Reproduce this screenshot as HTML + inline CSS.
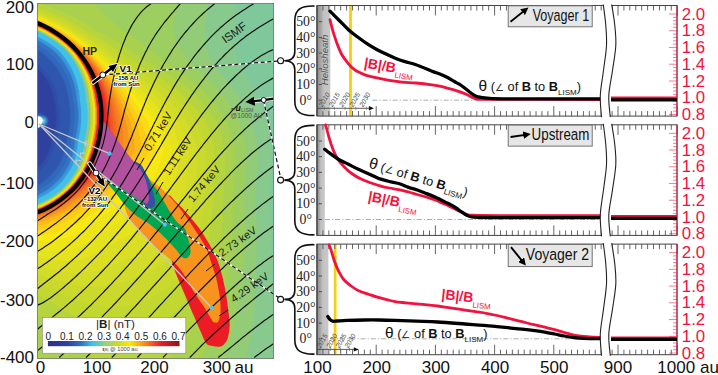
<!DOCTYPE html>
<html><head><meta charset="utf-8"><style>html,body{margin:0;padding:0;background:#fff;overflow:hidden}svg{display:block}</style></head>
<body><svg xmlns="http://www.w3.org/2000/svg" width="718" height="375" viewBox="0 0 718 375">
<rect width="718" height="375" fill="#fff"/>
<defs>
<clipPath id="lp"><rect x="37.5" y="3.5" width="236.1" height="354.9"/></clipPath>
<linearGradient id="cbar" x1="0" x2="1" y1="0" y2="0"><stop offset="0" stop-color="#2c2e8a"/><stop offset="0.143" stop-color="#2f3e9e"/><stop offset="0.25" stop-color="#2f6fbe"/><stop offset="0.33" stop-color="#3cbdeb"/><stop offset="0.43" stop-color="#8fcf8a"/><stop offset="0.52" stop-color="#c8d92c"/><stop offset="0.62" stop-color="#fde802"/><stop offset="0.71" stop-color="#f7a11b"/><stop offset="0.79" stop-color="#f05a22"/><stop offset="0.86" stop-color="#e3202a"/><stop offset="1" stop-color="#85181a"/></linearGradient>
<radialGradient id="sung" cx="0.5" cy="0.5" r="0.5"><stop offset="0" stop-color="#7fe0ff"/><stop offset="1" stop-color="#3fb8ea" stop-opacity="0"/></radialGradient>
<marker id="ah" viewBox="0 0 10 10" refX="5" refY="5" markerWidth="4" markerHeight="4" orient="auto-start-reverse"><path d="M0,0 L10,5 L0,10 z" fill="#000"/></marker>
</defs>
<g clip-path="url(#lp)">
<rect x="0" y="0" width="300" height="375" fill="#2d3f9d"/>
<path d="M275.5,360.1 35.4,360.0 35.3,22.5 35.5,1.4 275.6,1.5 275.5,360.1Z" fill="#2d3996" fill-rule="evenodd"/>
<path d="M275.5,360.1 35.4,360.0 35.3,22.5 35.5,1.4 275.6,1.5 275.5,360.1Z" fill="#2d3d9a" fill-rule="evenodd"/>
<path d="M275.5,360.1 35.4,360.0 35.5,103.5 36.0,103.0 36.4,102.0 36.0,100.0 35.5,99.4 35.3,23.0 35.5,1.4 275.6,1.5 275.5,360.1Z" fill="#2e419f" fill-rule="evenodd"/>
<path d="M275.5,360.1 35.4,360.0 35.5,168.3 39.5,164.8 42.7,161.0 45.5,156.2 48.0,151.0 50.0,145.2 50.9,140.5 53.1,134.0 54.2,129.5 55.5,120.0 55.6,112.5 54.7,105.5 53.2,100.0 52.6,96.0 51.5,91.8 49.6,87.0 47.1,82.0 45.0,78.7 41.0,73.5 35.5,68.1 35.3,23.0 35.5,1.4 275.6,1.5 275.5,360.1ZM42.5,130.5 41.0,130.9 39.0,130.9 35.5,130.3 35.5,111.7 37.5,111.3 40.0,111.3 42.0,111.6 43.5,112.1 45.5,113.2 46.9,114.5 48.1,116.0 48.9,117.5 49.5,119.5 49.6,121.5 49.3,123.5 48.6,125.5 47.6,127.0 46.0,128.7 44.5,129.7 42.5,130.5Z" fill="#2e45a3" fill-rule="evenodd"/>
<path d="M275.5,360.1 35.4,360.0 35.5,169.8 40.4,165.5 43.5,162.0 46.4,157.0 48.9,152.0 50.8,146.5 52.2,140.0 54.7,132.0 56.0,125.0 56.6,119.5 56.6,112.0 55.8,106.0 52.7,92.0 50.9,87.0 49.2,83.5 46.0,78.0 41.7,72.5 38.8,69.5 35.5,66.5 35.3,23.0 35.5,1.4 275.6,1.5 275.5,360.1ZM41.0,129.1 38.5,129.4 35.5,128.8 35.5,113.2 36.0,113.1 38.0,112.7 40.0,112.8 43.0,113.8 44.5,114.8 45.5,115.9 46.9,118.5 47.2,120.0 47.2,122.0 46.3,125.0 45.3,126.5 44.0,127.7 42.5,128.6 41.0,129.1Z" fill="#2f4ea9" fill-rule="evenodd"/>
<path d="M275.5,360.1 35.4,360.0 35.5,173.9 39.5,170.9 46.0,164.6 49.1,159.5 51.8,154.0 53.9,148.0 55.6,140.0 57.8,133.0 59.2,125.5 59.8,120.0 59.8,112.0 59.0,105.5 55.8,90.5 53.7,85.0 50.0,78.0 48.8,76.0 46.0,72.3 41.5,67.2 35.5,62.0 35.5,1.4 275.6,1.5 275.5,360.1ZM41.0,128.1 38.5,128.4 37.0,128.3 35.5,127.8 35.5,114.2 36.0,114.0 37.5,113.7 39.0,113.6 40.5,113.8 42.0,114.3 44.2,116.0 45.8,118.5 46.1,120.0 46.2,121.5 45.9,123.0 45.4,124.5 43.5,126.8 41.0,128.1Z" fill="#2f56af" fill-rule="evenodd"/>
<path d="M275.5,360.1 35.4,360.0 35.5,185.9 38.5,184.3 42.0,181.9 45.5,179.2 49.5,175.6 54.4,170.5 57.2,166.5 59.3,163.0 61.0,159.5 63.1,154.0 64.3,150.0 65.9,142.5 66.1,140.0 67.1,137.0 68.2,132.0 69.3,125.5 69.8,120.5 69.8,111.0 67.4,94.5 65.4,86.5 62.9,80.0 60.7,75.5 56.8,69.0 51.2,62.0 45.0,56.0 41.0,52.8 35.5,49.1 35.5,1.4 275.6,1.5 275.5,360.1ZM40.0,127.5 37.5,127.6 35.5,126.9 35.5,115.1 37.0,114.5 39.5,114.4 42.0,115.3 44.0,117.0 45.2,119.5 45.3,122.0 44.4,124.5 42.5,126.5 40.0,127.5Z" fill="#305fb5" fill-rule="evenodd"/>
<path d="M275.5,360.1 35.4,360.0 35.5,187.1 39.0,185.2 42.0,183.2 46.0,180.1 50.0,176.6 55.0,171.3 58.0,167.2 60.2,163.5 61.5,161.0 63.1,157.0 65.3,150.5 66.9,142.5 67.1,140.0 68.5,135.5 69.5,130.5 70.8,120.5 70.8,111.0 68.3,94.0 66.3,86.0 63.5,78.8 61.6,75.0 57.7,68.5 52.0,61.3 49.0,58.2 45.0,54.6 39.0,50.0 35.5,48.0 35.5,1.4 275.6,1.5 275.5,360.1ZM39.0,127.0 37.0,126.8 35.5,126.2 35.5,115.8 38.0,115.0 40.5,115.3 42.5,116.4 43.9,118.0 44.7,120.5 44.4,123.0 43.2,125.0 41.5,126.3 39.0,127.0Z" fill="#3068bb" fill-rule="evenodd"/>
<path d="M275.5,360.1 35.4,360.0 35.5,192.0 41.2,189.0 44.0,187.1 48.8,183.5 52.7,180.0 56.2,176.5 58.4,174.0 61.3,170.0 64.4,165.0 65.8,162.0 67.9,156.5 69.2,152.0 70.8,144.0 71.2,140.0 72.2,136.5 73.3,131.0 74.6,121.0 74.6,110.5 73.7,103.5 73.0,100.0 72.2,92.5 71.2,88.0 69.2,81.5 67.5,77.3 65.4,73.0 61.0,65.5 55.0,58.0 52.0,54.9 46.5,50.0 38.5,45.0 35.5,43.5 35.5,1.4 275.5,1.5 275.5,360.1ZM40.5,126.1 38.0,126.4 36.5,126.0 35.5,125.5 35.5,116.5 36.5,116.0 38.5,115.6 40.7,116.0 42.5,117.2 43.7,119.0 44.1,121.0 43.7,123.0 42.5,124.8 40.5,126.1Z" fill="#3274c3" fill-rule="evenodd"/>
<path d="M275.5,360.0 35.4,360.0 35.5,195.6 36.0,195.6 43.2,192.0 46.5,190.0 51.0,186.6 55.0,183.0 57.0,180.7 58.6,179.5 61.1,176.5 62.3,174.5 64.0,172.5 68.1,166.0 69.1,164.0 69.2,163.0 71.1,158.5 72.6,153.5 72.7,152.0 73.1,151.0 73.2,149.5 74.1,145.5 74.6,140.0 75.5,137.0 75.7,135.5 76.5,132.0 78.0,121.5 78.0,110.5 77.7,109.5 77.5,106.5 77.2,105.5 77.0,103.0 76.3,100.0 76.1,95.5 75.7,94.0 75.5,91.5 74.8,89.0 74.6,87.0 72.5,80.1 71.3,77.5 70.5,75.1 68.0,70.0 63.5,62.5 57.5,54.9 53.0,50.4 50.5,48.5 45.2,45.0 40.2,42.0 36.0,39.9 35.5,39.9 35.5,1.4 275.5,1.5 275.5,360.0ZM40.5,125.5 39.5,125.8 38.0,125.9 36.5,125.5 35.5,124.9 35.5,117.1 36.5,116.5 38.5,116.1 40.5,116.5 42.0,117.5 43.1,119.0 43.5,121.0 43.1,123.0 42.1,124.5 40.5,125.5Z" fill="#3480ca" fill-rule="evenodd"/>
<path d="M275.5,360.0 35.4,360.0 35.5,195.9 36.5,195.7 43.5,192.2 44.5,191.4 46.0,190.7 53.0,185.2 58.8,179.5 61.4,176.5 64.3,172.5 68.7,165.5 71.2,159.0 72.7,154.0 74.3,146.0 74.9,140.0 75.7,137.5 76.8,132.0 77.8,126.0 77.9,123.0 78.3,121.5 78.3,110.5 77.9,109.0 77.3,103.0 76.8,101.0 75.7,91.0 75.3,90.0 74.7,86.5 73.9,84.0 73.8,83.0 72.8,80.0 70.8,75.0 68.3,70.0 64.2,63.0 57.5,54.6 53.0,50.1 45.5,44.8 44.0,44.1 40.5,41.8 36.5,39.8 35.5,39.6 35.5,1.4 275.5,1.5 275.5,360.0ZM40.0,125.1 39.0,125.4 37.5,125.3 35.5,124.2 35.5,117.8 37.0,116.9 38.5,116.6 40.5,117.1 41.8,118.0 42.7,119.5 42.9,121.5 42.5,123.0 41.5,124.3 40.0,125.1Z" fill="#368cd2" fill-rule="evenodd"/>
<path d="M275.5,360.0 35.4,360.0 35.5,196.7 43.3,193.0 46.5,191.1 50.9,188.0 53.5,185.8 59.0,180.5 62.0,177.0 64.9,173.0 69.2,166.0 72.0,159.0 73.4,154.0 75.1,145.5 75.6,140.0 77.4,132.0 78.9,121.5 78.9,110.5 77.9,103.0 77.3,100.0 76.5,91.5 75.4,86.5 73.1,79.0 71.6,75.0 68.9,69.5 64.5,62.1 58.1,54.0 55.0,50.8 51.4,48.0 46.0,44.4 40.5,41.1 35.5,38.8 35.5,1.4 275.5,1.5 275.5,360.0ZM40.0,124.6 39.0,124.9 37.5,124.7 36.5,124.3 35.5,123.4 35.5,118.6 37.0,117.4 38.5,117.1 40.0,117.4 41.5,118.5 42.2,119.5 42.5,121.0 42.2,122.5 41.5,123.6 40.0,124.6Z" fill="#3898d9" fill-rule="evenodd"/>
<path d="M275.5,360.0 35.5,360.0 35.5,199.4 37.0,198.7 37.9,198.5 44.9,195.0 46.0,194.1 49.0,192.5 51.5,190.6 52.0,190.5 55.1,188.0 62.5,180.5 65.7,176.0 67.0,174.5 67.1,174.0 68.5,172.1 68.6,171.5 69.5,170.5 70.2,169.0 71.0,168.0 72.5,165.0 72.7,164.0 73.0,163.7 73.6,161.5 74.5,159.7 75.2,156.5 75.5,156.0 76.2,151.5 76.5,151.0 76.7,149.0 77.0,148.4 77.2,146.5 77.5,145.5 77.7,141.0 78.0,140.4 78.2,138.5 78.5,138.0 78.6,136.5 79.0,135.5 79.3,133.5 79.5,133.0 79.6,131.0 80.0,130.0 80.1,128.0 80.5,127.0 80.6,123.5 81.1,122.0 81.0,109.5 80.6,108.5 80.5,105.5 80.1,104.5 80.0,102.0 79.6,101.0 79.5,97.0 79.2,96.0 78.5,89.5 78.2,89.0 77.6,85.0 77.2,84.5 76.5,81.2 75.6,79.0 75.5,78.1 74.2,75.5 74.0,74.3 73.7,74.0 73.0,72.0 71.6,69.5 71.5,68.9 71.1,68.5 71.0,68.0 69.1,65.0 68.5,63.5 67.6,62.5 67.0,61.1 65.5,59.0 60.0,52.0 56.8,49.0 51.5,45.0 51.0,44.9 50.0,44.0 49.5,43.9 46.9,42.0 45.5,41.4 41.9,39.0 37.9,37.0 37.0,36.8 35.5,36.1 35.5,1.4 275.5,1.5 275.5,360.0ZM40.0,124.0 39.0,124.3 37.5,124.2 36.3,123.5 35.5,122.5 35.5,119.6 36.0,118.8 37.0,118.0 38.0,117.7 39.5,117.8 40.7,118.5 41.5,119.5 41.9,120.5 41.7,122.0 41.0,123.3 40.0,124.0Z" fill="#3aa3de" fill-rule="evenodd"/>
<path d="M275.5,360.0 35.5,360.0 35.5,199.6 38.0,198.6 45.0,195.1 53.5,189.6 61.0,182.4 63.5,179.5 67.0,174.8 71.2,168.0 72.7,165.0 74.5,160.0 76.0,154.5 77.6,146.0 77.7,142.5 78.2,139.5 79.6,133.5 80.7,127.0 80.7,124.5 81.2,122.0 81.2,109.5 80.8,108.0 80.2,102.0 79.7,100.0 79.6,97.0 78.7,89.5 78.3,88.5 77.7,85.0 75.6,78.0 73.6,73.0 71.2,68.0 68.7,63.5 66.1,59.5 60.0,51.8 57.0,48.9 53.0,45.9 47.0,41.9 42.0,38.9 35.5,35.9 35.5,1.5 275.5,1.5 275.5,360.0ZM39.5,123.6 38.5,123.8 37.5,123.6 36.6,123.0 35.9,122.0 35.7,121.0 35.9,120.0 36.6,119.0 37.5,118.4 38.5,118.2 39.7,118.5 40.5,119.0 41.2,120.0 41.3,121.0 41.2,122.0 40.5,123.0 39.5,123.6Z" fill="#3bade3" fill-rule="evenodd"/>
<path d="M275.5,360.0 35.5,360.0 35.5,199.8 38.0,198.8 45.0,195.3 53.5,189.8 61.2,182.5 64.2,179.0 65.4,177.0 67.0,175.0 71.6,167.5 72.6,165.5 74.7,160.0 76.2,154.5 77.7,146.5 77.9,143.0 78.3,139.5 79.2,136.5 80.8,127.5 81.3,122.0 81.3,109.5 80.3,101.5 79.8,100.0 79.8,96.5 79.1,91.0 77.7,84.5 75.6,77.5 74.8,76.0 74.2,74.0 71.1,67.5 66.7,60.0 60.0,51.6 57.0,48.7 52.5,45.3 47.0,41.7 42.0,38.7 35.5,35.7 35.5,1.5 275.5,1.5 275.5,360.0ZM39.0,123.1 37.5,122.9 37.0,122.5 36.4,121.5 36.6,120.0 37.0,119.5 38.0,118.9 39.5,119.1 40.0,119.5 40.6,120.5 40.4,122.0 40.0,122.5 39.0,123.1Z" fill="#3db8e8" fill-rule="evenodd"/>
<path d="M275.5,360.0 35.5,360.0 35.5,199.9 38.5,198.8 45.5,195.3 46.4,194.5 48.0,193.8 52.5,190.8 54.5,188.9 55.5,188.3 61.4,182.5 64.4,179.0 65.5,177.0 67.3,175.0 67.5,174.4 68.9,172.5 69.0,171.9 69.8,171.0 70.5,169.5 71.4,168.5 71.9,167.0 72.9,165.5 73.5,163.5 73.9,163.0 74.0,162.0 74.9,160.5 75.5,157.5 75.8,157.0 76.0,155.7 76.4,155.0 76.9,150.5 77.3,150.0 77.5,147.7 77.9,147.0 77.9,143.5 78.4,142.0 78.5,139.5 78.8,139.0 79.0,137.4 79.3,137.0 79.5,135.0 79.8,134.5 80.5,129.5 80.9,128.5 81.0,125.2 81.4,124.0 81.4,122.0 81.4,108.5 81.0,106.8 80.9,104.0 80.5,102.8 80.3,100.5 80.0,100.0 79.9,95.0 79.5,93.9 79.3,90.5 79.0,90.0 78.8,88.5 78.5,88.0 78.4,86.0 78.0,85.3 77.8,84.0 77.5,83.7 77.3,82.0 77.0,81.6 76.9,80.5 76.5,80.0 76.4,79.0 76.0,78.5 75.9,77.5 75.0,76.0 74.3,73.5 73.0,71.1 72.4,69.5 72.0,69.1 71.9,68.5 71.5,68.1 71.4,67.5 69.4,64.5 68.8,63.0 67.9,62.0 67.3,60.5 60.5,52.0 60.3,51.5 56.5,48.1 52.0,44.7 47.5,41.7 43.4,39.5 42.5,38.7 38.5,36.7 35.5,35.6 35.5,1.5 275.5,1.5 275.5,360.0ZM39.0,122.2 38.0,122.2 37.3,121.5 37.3,120.5 38.0,119.8 39.0,119.8 39.7,120.5 39.7,121.5 39.0,122.2Z" fill="#42c0e7" fill-rule="evenodd"/>
<path d="M275.5,360.0 35.5,360.0 35.5,205.0 37.0,204.1 37.6,204.0 38.0,203.6 39.0,203.5 39.5,203.1 40.1,203.0 40.5,202.6 41.1,202.5 41.5,202.1 42.1,202.0 42.5,201.6 43.1,201.5 43.5,201.1 44.0,201.0 44.5,200.6 45.0,200.5 45.5,200.1 48.0,199.0 49.0,198.1 50.5,197.5 51.5,196.6 52.0,196.5 53.0,195.6 53.5,195.5 54.5,194.6 55.0,194.5 56.0,193.6 56.5,193.5 58.0,192.1 58.5,192.0 60.5,190.1 61.0,190.0 62.1,188.5 63.5,187.2 64.0,187.0 64.5,186.6 68.5,182.0 69.2,180.5 71.1,178.5 73.1,175.0 74.0,174.0 74.1,173.5 75.5,171.6 76.2,170.0 77.0,169.0 77.2,168.0 77.7,167.0 78.5,166.0 78.7,165.0 79.5,163.6 79.7,162.5 80.0,162.2 80.7,159.5 81.0,159.0 81.1,158.0 81.5,157.5 81.6,156.0 82.0,155.2 82.2,153.5 82.5,153.1 83.1,149.5 83.5,148.9 83.6,145.5 84.0,144.8 84.1,142.5 84.5,141.6 84.6,139.0 85.0,138.3 85.1,136.5 85.5,135.8 85.6,134.0 86.0,133.3 86.1,131.0 86.5,130.3 86.6,128.0 87.0,127.0 87.1,123.5 87.5,122.5 87.5,109.5 87.1,108.5 87.0,105.5 86.6,104.5 86.5,101.7 86.1,101.0 86.0,97.7 85.6,96.0 85.5,93.0 85.1,92.0 85.0,89.7 84.6,89.0 84.5,87.5 84.1,86.5 84.0,85.4 83.7,85.0 83.5,83.0 83.1,82.5 82.6,81.0 82.5,79.7 81.7,78.0 81.5,76.8 81.2,76.5 81.0,75.4 79.7,73.0 79.0,70.6 78.2,69.5 77.0,66.9 76.6,66.5 76.5,65.8 75.6,64.5 75.6,64.0 74.7,63.0 74.0,61.5 71.6,58.0 71.5,57.4 67.0,51.8 65.7,50.5 65.5,50.0 63.0,47.5 62.5,47.4 60.0,45.0 59.5,44.9 56.0,42.0 55.5,41.9 54.5,41.0 54.0,40.9 53.0,40.0 52.5,39.9 51.5,39.0 51.0,38.9 50.0,38.0 48.5,37.4 47.5,36.5 46.0,35.9 45.0,35.0 44.5,34.9 44.1,34.5 43.5,34.4 43.1,34.0 42.5,33.9 42.1,33.5 41.5,33.4 41.1,33.0 40.5,32.9 39.0,32.0 38.0,31.9 35.5,30.5 35.5,1.5 275.5,1.5 275.5,360.0Z" fill="#5bc3c9" fill-rule="evenodd"/>
<path d="M275.5,360.0 35.5,360.0 35.5,205.1 38.0,203.9 39.4,203.5 48.0,199.2 56.5,193.7 60.0,190.7 61.0,190.2 63.0,187.9 64.5,186.8 68.5,182.2 74.2,174.0 77.2,169.0 77.7,167.5 78.7,166.0 80.1,162.5 81.7,157.5 83.2,150.0 83.6,149.0 84.2,143.5 84.6,142.0 84.7,140.0 86.1,133.5 86.3,131.5 87.1,127.5 87.3,124.0 87.7,122.5 87.7,109.5 87.3,108.0 87.2,105.5 86.8,104.0 86.6,101.5 86.3,100.5 86.1,97.0 85.7,93.0 85.2,91.5 85.1,89.5 83.6,83.0 82.8,81.0 82.6,79.5 80.6,74.0 79.7,72.5 79.1,70.5 75.7,64.0 71.5,57.1 67.1,51.5 63.2,47.5 56.0,41.8 50.0,37.8 44.4,34.5 35.5,30.3 35.5,1.5 275.5,1.5 275.5,360.0Z" fill="#72c5ad" fill-rule="evenodd"/>
<path d="M275.5,360.0 35.5,360.0 35.5,205.3 38.5,203.9 39.5,203.7 47.5,199.7 56.0,194.2 61.0,190.3 64.5,187.0 68.5,182.4 69.5,180.8 71.8,178.0 74.9,173.0 75.7,172.0 79.7,164.0 81.7,158.0 83.8,149.0 84.4,143.5 84.7,142.5 84.8,140.0 86.3,133.5 86.4,132.0 87.3,127.5 87.4,124.5 87.8,122.5 87.8,109.0 87.4,107.5 87.3,105.0 86.4,100.0 86.3,96.5 85.8,92.5 85.3,91.0 85.2,89.0 84.3,86.0 83.8,83.0 82.9,80.5 82.8,79.5 79.3,70.5 76.2,64.5 73.2,59.5 72.4,58.5 71.7,57.0 67.3,51.5 63.4,47.5 55.5,41.3 49.5,37.3 44.5,34.3 39.5,31.8 38.5,31.6 35.5,30.2 35.5,1.5 275.5,1.5 275.5,360.0Z" fill="#7fc89c" fill-rule="evenodd"/>
<path d="M275.5,360.0 35.5,360.0 35.5,205.5 36.0,205.4 36.4,205.0 37.0,204.9 37.4,204.5 38.0,204.4 38.6,204.0 39.5,203.9 40.0,203.5 40.5,203.4 42.0,202.5 42.5,202.4 42.9,202.0 44.5,201.4 45.0,201.0 45.5,200.9 46.0,200.5 46.5,200.4 47.0,200.0 47.5,199.9 49.4,198.5 50.0,198.4 50.4,198.0 51.0,197.9 54.9,195.0 55.5,194.9 60.0,191.4 64.0,187.5 64.5,187.4 64.9,187.0 66.0,185.5 68.8,182.5 69.5,181.0 71.8,178.5 72.5,177.0 73.4,176.0 73.5,175.5 74.4,174.5 75.0,173.0 75.9,172.0 76.0,171.5 76.8,170.5 77.5,168.9 77.9,168.5 78.0,167.8 78.9,166.5 79.0,165.9 79.4,165.5 79.5,164.8 80.4,163.0 80.5,162.0 80.9,161.5 81.0,160.5 81.4,160.0 81.5,158.9 81.9,158.5 82.0,157.3 82.4,156.5 82.5,155.0 82.9,154.5 83.0,152.7 83.4,152.0 83.5,150.5 83.9,150.0 84.0,148.1 84.4,147.5 84.5,144.0 84.9,143.0 85.0,140.0 85.4,139.5 85.5,137.7 85.9,137.0 86.0,135.2 86.4,134.5 86.5,132.2 86.9,131.5 87.0,129.2 87.4,128.5 87.5,125.0 87.9,124.0 88.0,122.5 87.9,108.5 87.5,107.3 87.4,104.0 87.0,103.3 86.9,100.5 86.5,99.0 86.4,95.0 86.0,94.0 85.9,91.5 85.5,91.0 85.4,88.5 85.0,87.7 84.9,86.5 84.5,86.0 84.3,84.0 84.0,83.7 83.9,82.5 83.0,80.3 82.9,79.0 82.5,78.4 82.4,77.5 82.0,77.0 81.9,76.0 81.5,75.6 81.3,74.5 80.0,72.1 79.4,70.0 79.0,69.6 77.9,67.0 77.0,65.8 75.9,63.5 74.5,61.5 73.9,60.0 72.0,57.6 71.9,57.0 68.5,53.0 67.9,52.0 63.5,47.4 59.0,43.6 55.0,40.6 54.4,40.5 53.5,39.6 53.0,39.5 52.0,38.6 51.4,38.5 50.5,37.6 49.9,37.5 49.5,37.1 48.9,37.0 48.0,36.1 47.4,36.0 47.0,35.6 46.4,35.5 44.5,34.1 44.0,34.0 43.5,33.6 43.0,33.5 42.5,33.1 42.0,33.0 41.5,32.6 39.9,32.0 39.5,31.6 38.6,31.5 38.0,31.1 37.4,31.0 37.0,30.6 36.4,30.5 36.0,30.1 35.5,30.0 35.5,1.5 237.1,1.5 235.0,18.5 234.0,32.0 234.2,42.5 234.8,47.0 235.6,51.5 237.3,57.5 239.7,63.5 243.4,71.0 254.8,92.0 260.4,104.5 265.9,118.5 266.4,120.0 268.4,130.5 270.6,146.0 271.0,150.0 270.8,158.5 270.2,180.0 269.6,191.5 269.5,200.5 271.3,242.5 271.5,282.0 275.5,339.5 275.5,360.0Z" fill="#88c98d" fill-rule="evenodd"/>
<path d="M245.5,360.0 35.5,360.0 35.5,206.1 36.2,206.0 38.5,204.8 39.8,204.5 47.8,200.5 51.1,198.5 59.1,193.0 60.5,191.6 61.6,191.0 64.5,188.1 65.0,188.0 65.5,187.5 69.6,183.0 70.1,182.0 74.1,177.0 74.1,176.5 75.0,175.5 76.2,173.5 77.0,172.6 77.7,171.0 78.6,170.0 79.1,168.5 81.5,164.3 82.2,162.0 82.5,161.7 82.7,160.5 83.5,159.0 84.1,156.0 84.6,155.5 84.7,154.0 85.1,153.5 85.2,152.5 86.1,150.0 86.2,148.5 86.5,148.0 86.7,145.5 87.0,145.0 87.2,143.0 87.5,142.5 87.6,140.0 88.1,139.0 88.1,137.5 88.6,136.5 88.7,134.5 89.1,134.0 89.1,132.0 89.6,131.0 89.6,129.0 90.1,128.0 90.1,124.5 90.6,123.5 90.6,108.5 90.1,107.5 90.1,104.5 89.6,103.5 89.6,101.0 89.1,100.0 89.0,96.5 88.6,95.5 88.5,93.5 88.3,93.0 88.1,91.0 87.7,90.5 87.5,88.0 87.1,87.5 87.0,86.2 86.1,84.0 86.0,82.5 85.1,80.5 85.0,79.8 84.7,79.5 84.5,78.1 83.7,76.5 83.0,74.3 82.7,74.0 82.5,73.2 81.6,72.0 81.0,70.0 79.2,67.0 78.0,64.5 76.2,62.0 76.0,61.3 74.6,59.5 74.5,58.9 73.2,57.5 72.5,56.0 69.7,53.0 68.0,50.8 63.6,46.5 62.5,45.9 60.6,44.0 59.5,43.4 56.6,41.0 50.6,37.0 44.8,33.5 39.8,31.0 38.5,30.8 35.5,29.2 35.5,1.5 208.6,1.5 205.4,23.5 204.6,33.0 204.6,38.0 205.0,42.5 205.8,47.0 207.1,51.5 209.9,58.5 213.2,64.0 218.0,70.5 234.1,90.0 240.5,99.9 246.1,110.0 250.8,120.0 251.3,121.5 254.8,136.0 257.1,150.0 256.7,173.5 255.3,198.5 256.6,229.0 256.8,244.0 256.1,275.0 255.1,295.5 253.7,316.5 252.1,331.0 249.8,343.0 245.7,360.0 245.5,360.0Z" fill="#93cc76" fill-rule="evenodd"/>
<path d="M224.5,360.0 35.5,360.0 35.5,206.2 36.5,206.0 39.0,204.7 40.0,204.5 48.0,200.5 56.5,195.0 59.2,193.0 60.5,191.8 61.7,191.0 64.0,188.7 65.5,187.6 69.7,183.0 70.2,182.0 72.5,179.3 73.3,178.0 74.1,177.0 74.3,176.5 75.5,175.0 78.6,170.0 79.2,168.5 81.5,164.5 84.0,157.7 86.6,148.0 86.7,146.0 87.6,142.5 87.8,140.0 89.1,134.0 89.3,132.0 89.6,131.0 89.8,129.0 90.1,128.0 90.2,125.0 90.6,123.5 90.6,108.5 90.2,107.0 90.1,104.5 89.8,103.5 89.6,101.0 89.3,100.0 89.1,96.5 88.8,95.5 88.6,93.5 87.8,90.0 87.6,88.0 86.3,84.0 86.1,82.5 85.2,80.5 84.6,78.0 82.5,73.0 81.8,72.0 80.6,69.0 78.1,64.5 72.6,56.0 68.0,50.6 63.7,46.5 56.0,40.5 50.0,36.5 45.0,33.5 40.0,31.0 38.0,30.3 35.5,29.0 35.5,1.5 177.3,1.5 174.5,19.0 173.9,27.5 174.1,32.0 174.8,36.0 175.9,40.0 177.5,44.0 179.3,47.5 181.7,51.5 187.9,60.0 193.7,66.0 210.5,82.3 218.1,90.0 224.9,98.5 230.8,107.0 234.8,113.5 238.3,120.0 240.8,128.0 242.7,135.0 244.2,142.0 245.6,150.0 245.8,162.0 245.5,174.0 245.3,180.0 244.3,192.5 244.0,200.0 244.7,226.0 244.6,240.5 243.8,256.0 242.3,274.0 238.9,300.0 235.6,319.5 231.4,337.0 224.5,360.0Z" fill="#9dce60" fill-rule="evenodd"/>
<path d="M200.0,360.0 37.3,360.0 35.5,358.2 35.5,206.3 36.5,206.1 39.0,204.8 40.0,204.6 48.0,200.6 56.5,195.1 59.4,193.0 61.9,191.0 64.0,188.8 65.2,188.0 67.6,185.5 72.5,179.5 75.6,175.0 78.7,170.0 79.3,168.5 81.6,164.5 84.0,158.0 84.3,156.5 84.7,155.5 84.8,154.5 86.6,148.5 86.8,146.0 87.7,142.5 87.9,140.0 90.2,128.0 90.3,125.0 90.7,123.5 90.7,108.5 90.3,107.0 90.2,104.5 89.8,103.0 89.7,101.0 89.4,100.0 89.2,96.5 88.6,92.5 87.8,89.5 87.7,88.0 86.8,85.5 86.2,82.5 85.3,80.5 84.7,78.0 82.7,73.0 78.2,64.5 72.7,56.0 68.3,51.0 68.1,50.5 63.9,46.5 56.0,40.4 50.0,36.4 45.0,33.4 40.0,30.9 38.0,30.2 35.5,28.9 35.5,1.5 95.0,1.5 95.3,3.5 96.1,5.5 97.4,7.5 99.4,10.0 108.9,18.5 122.4,30.0 134.5,38.3 162.5,60.0 173.5,67.1 183.5,74.2 193.5,82.1 202.5,89.8 209.2,97.0 215.4,104.5 221.0,112.2 226.0,120.0 228.7,127.5 230.8,134.5 232.8,142.0 234.4,150.0 234.6,163.0 234.4,177.0 232.9,200.0 232.9,221.5 232.6,231.5 231.3,248.5 229.9,259.5 228.0,270.0 222.5,297.5 219.0,311.5 214.8,325.0 209.5,339.5 204.4,351.5 201.5,357.5 200.0,360.0Z" fill="#aad14d" fill-rule="evenodd"/>
<path d="M164.0,360.0 94.2,360.0 84.5,353.8 74.0,345.9 64.0,337.5 44.5,319.6 39.5,315.6 35.5,312.9 35.5,206.4 36.5,206.2 38.0,205.4 40.0,204.7 48.0,200.7 56.0,195.6 59.5,193.0 65.3,188.0 68.1,185.0 69.9,183.0 70.8,181.5 72.7,179.5 75.7,175.0 78.8,170.0 81.7,164.5 84.2,158.0 84.4,156.5 86.7,148.5 86.8,146.5 87.7,143.0 87.8,141.0 90.2,128.5 90.3,125.5 90.8,123.5 90.8,108.5 90.3,106.5 90.3,104.5 89.9,103.0 88.7,92.5 87.9,89.5 87.8,88.0 86.8,85.0 86.1,82.0 82.7,73.0 81.8,71.5 81.1,69.5 77.7,63.5 72.8,56.0 68.8,51.5 68.2,50.5 64.0,46.5 56.0,40.3 50.0,36.3 45.0,33.3 40.0,30.8 38.0,30.1 35.5,28.8 35.5,3.1 38.0,3.1 41.0,3.7 50.5,7.0 59.0,10.3 65.5,13.2 78.5,19.8 90.0,26.6 94.8,30.0 105.5,35.3 120.5,43.9 128.5,49.1 143.8,60.0 162.5,70.8 174.0,78.2 182.1,84.0 189.8,90.0 196.0,96.1 201.5,102.0 209.0,111.0 215.5,120.0 218.8,128.5 222.1,139.0 224.8,150.0 225.1,161.0 225.1,173.0 224.9,180.0 223.2,200.0 222.7,219.5 221.8,231.5 219.7,248.0 216.5,264.0 210.7,286.0 207.0,297.8 204.5,304.3 201.6,311.0 195.0,324.2 191.1,331.0 187.5,336.7 183.7,342.0 180.0,346.7 176.0,350.9 172.0,354.5 166.5,358.7 164.5,360.0 164.0,360.0Z" fill="#b6d43d" fill-rule="evenodd"/>
<path d="M127.0,334.5 119.5,334.1 111.5,332.8 103.5,330.5 95.0,327.2 86.5,323.2 77.5,318.3 45.6,299.0 40.5,296.5 35.5,294.6 35.5,206.6 36.5,206.3 39.1,205.0 40.0,204.8 49.0,200.3 56.0,195.8 62.0,191.2 65.4,188.0 69.6,183.5 70.9,181.5 72.8,179.5 74.9,176.0 77.2,173.0 81.8,164.5 84.3,158.0 84.5,156.5 84.8,156.0 86.8,148.5 86.9,146.5 87.5,144.0 87.7,143.5 87.9,141.0 90.3,128.5 90.4,125.5 90.9,123.5 90.9,108.5 90.4,106.5 90.3,104.0 89.9,102.5 88.8,92.5 88.0,89.4 87.8,87.5 86.9,85.0 86.3,82.0 85.5,80.4 84.3,76.5 82.8,73.0 81.9,71.5 81.2,69.5 77.8,63.5 76.4,61.5 76.3,61.0 73.5,57.2 73.2,56.5 68.9,51.5 68.3,50.5 64.0,46.3 57.0,40.8 51.0,36.7 49.5,36.1 45.0,33.2 40.0,30.7 38.0,30.1 35.5,28.7 35.5,8.0 39.0,8.2 42.5,9.2 56.0,14.4 63.0,17.6 75.0,24.0 83.0,29.3 96.5,36.6 106.5,42.8 115.5,48.8 130.8,60.0 161.0,78.7 170.3,85.0 177.1,90.0 185.0,97.3 191.5,104.0 198.5,112.0 204.6,120.0 209.4,131.5 213.1,143.0 214.9,150.0 215.2,164.5 215.1,177.0 215.0,180.0 213.3,197.5 212.4,211.0 211.2,223.5 208.9,238.0 205.5,253.0 200.4,271.0 198.0,278.0 196.0,283.0 193.5,288.0 190.5,293.1 187.0,298.2 183.0,303.4 179.0,308.0 174.5,312.6 170.0,316.8 165.0,320.8 160.5,324.0 156.0,326.7 151.5,329.0 146.5,331.0 142.0,332.4 137.0,333.5 132.0,334.2 127.0,334.5Z" fill="#c2d730" fill-rule="evenodd"/>
<path d="M117.0,307.5 110.0,307.5 103.0,306.8 95.0,305.3 86.5,303.2 73.0,298.7 47.5,288.2 35.5,284.0 35.5,206.8 35.8,206.5 36.5,206.4 38.2,205.5 39.0,205.3 39.3,205.0 40.0,204.9 49.0,200.4 57.5,194.9 60.9,192.0 62.0,191.4 69.9,183.5 71.0,181.5 72.9,179.5 76.4,174.0 77.4,173.0 77.4,172.5 78.8,170.5 79.9,168.0 80.4,167.5 81.0,166.0 81.8,165.0 82.0,164.0 82.4,163.5 83.0,161.3 83.3,161.0 83.5,160.0 83.9,159.5 84.0,158.7 84.4,158.0 84.5,156.7 84.9,156.0 85.0,155.0 85.4,154.5 85.5,153.3 85.8,153.0 86.0,151.5 86.3,151.0 86.5,149.6 86.9,149.0 87.0,146.6 87.3,146.0 87.5,144.2 87.9,143.5 88.0,141.1 88.4,140.5 88.5,138.6 88.8,138.0 89.0,136.1 89.3,135.5 89.5,133.1 89.8,132.5 90.0,130.1 90.4,129.0 90.5,125.6 90.8,125.0 91.0,123.5 90.9,108.0 90.5,106.4 90.4,103.5 90.0,102.4 89.9,99.0 89.5,98.0 89.4,95.5 89.3,94.5 89.0,94.0 88.9,92.0 88.5,91.4 87.8,87.0 87.5,86.7 87.4,85.5 87.0,85.0 86.8,83.5 86.5,83.2 86.4,82.0 86.0,81.5 85.8,80.5 85.5,80.2 85.3,78.5 84.5,77.0 83.4,74.0 82.0,71.5 81.4,69.5 81.0,69.1 80.3,67.5 79.5,66.5 79.4,66.0 78.9,65.5 77.7,63.0 76.5,61.5 76.4,61.0 75.5,59.9 74.9,58.5 73.5,57.1 73.4,56.5 72.3,55.0 69.0,51.5 68.4,50.5 64.0,46.1 62.9,45.5 61.0,43.6 59.9,43.0 57.0,40.6 51.0,36.6 49.7,36.0 45.5,33.3 35.5,28.6 35.5,10.6 38.5,10.8 42.0,11.8 55.5,17.1 68.5,23.8 73.5,26.7 78.5,30.1 86.0,34.1 94.5,39.4 102.9,45.0 111.2,51.0 122.5,60.0 153.3,80.5 166.7,90.0 175.5,98.0 181.6,104.0 188.8,112.0 195.2,120.0 200.7,132.5 204.9,145.5 206.1,150.5 206.4,165.5 206.1,180.0 202.8,208.0 201.3,218.0 198.5,231.5 194.6,245.0 189.5,259.1 187.0,264.9 184.5,269.9 182.4,273.5 180.0,276.9 177.5,279.9 174.5,283.0 171.0,286.0 167.5,288.7 159.5,293.6 147.0,299.9 137.0,303.9 132.0,305.3 127.0,306.4 122.0,307.1 117.0,307.5Z" fill="#cad92c" fill-rule="evenodd"/>
<path d="M97.0,286.5 91.0,286.6 84.5,286.2 78.0,285.4 72.0,284.3 59.5,281.2 35.5,273.8 35.5,207.5 36.0,207.1 37.0,207.0 37.5,206.6 38.0,206.5 39.5,205.6 40.5,205.5 42.0,204.6 42.5,204.5 43.0,204.1 43.5,204.0 44.0,203.6 44.5,203.5 45.0,203.1 45.5,203.0 46.0,202.6 47.5,202.0 48.0,201.6 48.5,201.5 49.5,200.7 50.5,200.1 51.0,200.0 56.5,196.2 57.1,196.0 58.5,194.7 59.1,194.5 61.0,192.7 62.2,192.0 64.5,189.7 65.6,189.0 70.5,184.0 71.8,182.0 74.0,179.6 74.1,179.0 76.5,176.0 76.6,175.5 78.0,174.0 78.1,173.5 79.5,171.5 80.6,169.0 81.5,168.0 81.6,167.5 84.0,163.0 84.1,162.0 85.0,160.5 85.7,158.0 86.0,157.7 86.1,157.0 86.5,156.3 86.6,155.0 87.0,154.6 87.2,153.5 87.5,153.2 87.6,152.0 88.0,151.5 88.1,150.5 88.5,149.9 88.6,148.5 89.0,147.8 89.1,146.0 89.5,145.4 89.6,144.0 90.0,143.4 90.1,141.5 90.5,140.6 90.6,138.5 91.0,137.7 91.1,136.0 91.5,135.2 91.6,133.0 92.0,132.2 92.1,130.0 92.5,129.0 92.6,125.5 93.0,124.7 93.1,123.5 93.0,107.5 92.6,106.5 92.5,103.5 92.1,102.5 92.0,99.6 91.7,99.0 91.5,95.7 91.1,95.0 91.0,93.2 90.6,92.5 90.5,90.7 90.1,90.0 90.0,88.3 89.7,88.0 89.5,86.5 89.1,86.0 89.0,85.0 88.6,84.5 88.5,83.3 88.1,82.5 88.0,81.5 87.1,80.0 86.6,78.5 86.5,77.5 85.6,76.0 84.5,72.9 83.3,71.0 83.0,70.0 82.6,69.5 82.0,68.0 81.2,67.0 81.0,66.5 80.6,66.0 80.5,65.4 79.6,64.5 79.5,63.9 78.5,62.2 77.1,60.5 77.0,60.0 74.2,56.5 73.5,55.0 69.1,50.5 69.0,49.9 68.0,49.3 64.2,45.5 63.0,44.8 61.2,43.0 60.0,42.3 58.6,41.0 58.0,40.8 56.6,39.5 56.0,39.3 50.5,35.5 50.0,35.4 48.0,34.0 47.5,33.9 46.5,33.3 45.5,32.5 45.0,32.4 42.5,31.0 42.0,30.9 40.5,30.0 39.5,29.9 38.0,29.0 37.5,28.9 37.0,28.5 36.5,28.4 36.0,28.0 35.5,28.0 35.5,12.6 38.0,12.8 41.0,13.6 54.5,19.1 67.0,25.7 73.7,30.0 84.0,35.9 86.9,38.0 92.0,41.1 100.1,47.0 107.7,53.0 115.9,60.0 125.5,66.8 156.8,90.0 166.6,99.0 172.1,104.5 179.4,112.5 185.7,120.0 189.5,128.0 192.1,134.5 194.8,142.5 196.9,150.0 196.9,164.0 196.2,180.0 191.2,208.0 187.2,222.5 183.1,233.5 180.7,239.0 178.0,244.1 175.4,248.5 172.5,252.8 170.0,256.0 167.0,259.3 164.0,262.2 160.5,265.0 153.5,269.5 144.0,274.2 131.0,279.4 119.0,283.2 107.5,285.5 97.0,286.5Z" fill="#d3dc28" fill-rule="evenodd"/>
<path d="M81.5,273.0 72.5,273.1 63.0,271.9 49.0,268.8 35.5,265.0 35.5,207.6 36.0,207.3 37.0,207.1 39.5,205.8 40.5,205.6 48.5,201.6 50.5,200.2 52.0,199.5 60.0,194.0 65.9,189.0 70.7,184.0 71.2,183.0 73.5,180.4 77.2,175.0 78.1,174.0 78.2,173.5 79.0,172.5 81.6,168.0 82.2,166.5 83.0,165.5 85.5,159.5 86.2,157.0 86.6,156.5 86.8,155.0 87.6,153.5 87.6,152.5 88.6,150.0 89.2,146.5 90.1,143.5 90.2,142.0 90.5,141.0 92.6,129.5 92.8,126.0 93.2,123.5 93.2,108.5 92.8,106.0 92.0,98.6 91.7,97.5 91.6,95.5 91.2,94.5 90.6,90.5 90.2,90.0 90.0,88.0 89.1,85.0 88.8,84.5 88.5,83.0 88.2,82.5 88.1,81.5 87.1,79.5 86.6,77.5 85.1,74.0 83.2,70.5 82.5,68.7 78.7,62.5 78.6,62.0 77.7,61.0 73.6,55.0 70.3,51.5 69.0,49.8 64.5,45.5 64.0,45.3 61.5,43.0 61.0,42.8 57.5,40.0 51.5,36.0 50.0,35.3 49.0,34.5 47.5,33.8 45.5,32.4 40.5,29.9 39.5,29.7 36.0,27.9 35.5,27.8 35.5,14.1 37.5,14.3 40.5,15.1 53.5,20.4 66.0,27.1 82.5,37.2 85.0,39.2 90.2,42.5 98.0,48.5 105.2,54.5 111.2,60.0 121.5,68.0 148.9,90.0 163.7,104.5 171.4,113.0 177.4,120.0 181.0,127.5 183.7,134.0 186.4,142.0 188.6,150.0 188.1,163.5 186.6,180.0 183.5,190.8 178.0,207.4 172.5,220.4 170.2,225.0 167.8,229.0 165.0,233.1 161.9,237.0 156.6,242.5 150.9,247.0 144.0,251.3 135.5,255.5 109.5,266.0 100.5,269.2 95.5,270.7 90.5,271.9 81.5,273.0Z" fill="#dcde23" fill-rule="evenodd"/>
<path d="M72.5,261.0 66.0,261.2 56.5,260.3 44.5,258.4 35.5,256.1 35.5,207.7 37.0,207.2 38.5,206.3 40.5,205.7 48.5,201.7 50.5,200.3 52.0,199.6 60.0,194.1 61.1,193.0 62.5,192.1 64.6,190.0 66.0,189.1 70.8,184.0 71.7,182.5 73.6,180.5 77.3,175.0 78.2,174.0 83.1,165.5 85.7,159.5 88.7,150.0 89.3,146.5 90.2,143.5 90.3,142.0 90.7,141.0 92.9,128.0 93.0,126.0 93.4,123.5 93.4,108.5 92.1,98.5 91.8,97.5 91.7,95.5 90.7,90.5 90.3,89.5 90.1,88.0 88.8,84.0 88.2,81.5 87.2,79.5 86.7,77.5 82.5,68.5 78.7,62.0 77.8,61.0 75.5,57.5 73.7,55.0 68.8,49.5 64.5,45.4 63.5,44.8 61.5,42.9 57.5,39.9 51.5,35.9 50.0,35.2 45.5,32.3 40.5,29.8 38.5,29.2 35.5,27.7 35.5,15.5 37.5,15.6 40.0,16.3 53.0,21.8 65.0,28.4 73.5,33.5 81.2,38.5 83.5,40.4 88.8,44.0 96.2,50.0 102.5,55.5 107.2,60.0 118.3,69.5 141.5,90.0 155.3,104.5 168.9,120.0 172.5,127.5 175.0,133.5 177.7,141.5 179.9,150.0 179.2,158.5 178.2,166.0 175.4,180.0 173.0,185.0 169.5,191.3 166.8,195.5 163.5,200.0 159.5,207.0 156.6,211.0 147.9,221.5 145.0,224.3 141.0,227.6 136.5,230.8 132.0,233.7 126.0,237.0 109.5,245.4 96.0,253.0 89.0,256.4 83.5,258.5 78.0,260.1 72.5,261.0Z" fill="#e5e21e" fill-rule="evenodd"/>
<path d="M60.0,250.5 53.0,250.6 45.5,250.2 40.0,249.4 35.5,248.3 35.5,207.8 40.5,205.8 49.5,201.2 58.0,195.7 61.5,192.8 62.5,192.2 64.7,190.0 66.0,189.2 70.9,184.0 71.8,182.5 74.1,180.0 80.2,171.0 80.8,169.5 83.2,165.5 86.1,158.5 86.9,155.5 87.8,153.5 87.9,152.5 88.7,150.5 89.4,146.5 90.2,144.0 93.1,128.0 93.1,126.0 93.6,123.5 93.6,108.5 91.1,92.0 90.4,89.5 90.2,88.0 89.5,85.5 88.9,84.0 88.3,81.5 84.7,72.5 83.4,70.5 82.7,68.5 78.8,62.0 77.9,61.0 75.7,57.5 74.4,56.0 74.2,55.5 69.0,49.5 64.5,45.3 63.2,44.5 61.5,42.8 60.5,42.2 57.5,39.8 51.5,35.8 46.5,32.8 40.5,29.7 35.5,27.6 35.5,16.6 37.5,16.7 40.0,17.5 52.5,22.9 58.0,25.8 69.0,32.2 80.1,39.5 82.5,41.5 87.5,45.0 94.6,51.0 115.5,70.5 135.6,90.0 147.5,103.5 161.5,120.0 165.1,127.5 167.5,133.5 169.9,141.0 172.1,150.0 170.8,158.0 169.2,165.5 167.0,173.0 164.4,180.0 160.0,185.9 155.5,191.0 150.5,195.7 145.1,200.0 139.0,206.1 133.0,210.9 126.8,215.0 122.2,219.0 116.0,223.7 97.7,236.0 88.5,241.7 81.0,245.6 74.5,248.2 67.5,249.7 60.0,250.5Z" fill="#eee519" fill-rule="evenodd"/>
<path d="M47.0,241.5 41.0,241.5 35.5,240.6 35.5,207.9 41.0,205.7 49.0,201.7 58.0,195.9 59.0,194.9 60.0,194.4 61.5,192.9 62.5,192.4 64.9,190.0 66.0,189.3 71.0,184.0 71.9,182.5 74.3,180.0 74.4,179.5 75.6,178.0 80.3,171.0 80.9,169.5 81.8,168.5 82.5,166.8 83.4,165.5 86.3,158.5 86.4,157.5 87.7,154.0 88.0,152.5 88.7,151.0 89.3,148.5 89.4,147.0 90.3,144.0 90.9,140.0 91.3,139.0 91.4,137.5 92.3,134.0 92.4,132.0 92.8,131.0 92.9,129.0 93.3,128.0 93.4,124.5 93.8,123.5 93.8,108.5 93.4,107.5 93.3,104.5 92.9,103.5 92.8,101.0 92.4,100.0 92.3,98.0 91.9,97.0 91.8,95.0 91.4,93.5 91.3,92.0 90.5,89.5 90.4,88.0 89.7,85.5 89.0,84.0 88.3,81.0 87.5,79.5 86.8,77.0 84.8,72.5 83.5,70.4 82.8,68.5 78.9,62.0 78.0,61.0 76.2,58.0 74.5,56.0 74.3,55.5 69.5,50.1 69.2,49.5 68.4,49.0 64.5,45.1 63.4,44.5 61.5,42.6 60.5,42.1 57.0,39.3 51.0,35.3 49.5,34.6 46.0,32.3 41.0,29.8 38.7,29.0 35.5,27.4 35.5,17.6 37.0,17.7 39.5,18.4 52.0,23.9 57.0,26.5 68.0,33.0 72.0,35.6 75.5,38.2 77.5,39.3 81.0,42.2 86.2,46.0 93.1,52.0 112.8,71.5 130.2,90.0 153.9,120.0 157.6,128.0 159.7,133.5 161.9,140.5 163.8,150.0 162.3,156.5 160.2,163.0 157.4,170.0 154.5,176.0 152.1,180.0 147.0,185.0 142.0,189.2 134.5,194.7 125.7,200.0 120.8,204.0 113.0,209.6 104.4,215.0 94.0,223.2 86.5,228.2 80.0,232.1 73.4,235.5 69.5,237.1 66.0,238.2 56.0,240.6 50.5,241.3 47.0,241.5Z" fill="#f8e814" fill-rule="evenodd"/>
<path d="M41.0,235.0 38.0,234.9 35.5,234.5 35.5,208.0 36.5,207.9 37.9,207.0 38.5,206.9 38.9,206.5 40.0,206.4 41.4,205.5 42.0,205.4 42.4,205.0 43.0,204.9 43.4,204.5 44.0,204.4 44.4,204.0 45.0,203.9 45.4,203.5 46.0,203.4 46.4,203.0 47.0,202.9 47.4,202.5 48.0,202.4 48.4,202.0 49.0,201.9 50.0,201.0 51.5,200.4 52.5,199.5 53.0,199.4 54.0,198.5 54.5,198.4 57.0,196.5 57.5,196.4 59.0,195.0 59.5,194.9 61.5,193.0 62.0,192.9 65.0,190.0 65.5,189.9 66.0,189.5 71.4,184.0 72.0,182.6 74.5,180.0 74.5,179.5 75.9,178.0 76.0,177.5 77.3,176.0 79.9,172.0 80.0,171.5 80.9,170.5 81.0,169.7 82.0,168.5 82.5,167.0 83.4,166.0 83.5,165.4 83.9,165.0 84.0,164.0 84.9,162.5 85.5,160.4 86.4,159.0 86.5,157.5 86.9,157.0 87.0,156.3 87.4,155.5 87.5,154.4 87.9,154.0 88.0,152.9 88.4,152.5 88.5,151.5 88.9,151.0 89.0,149.8 89.4,149.0 89.5,147.0 89.9,146.5 90.0,144.9 90.4,144.5 90.5,142.7 90.9,142.0 91.0,140.0 91.4,139.5 91.5,137.5 91.9,137.0 92.0,134.9 92.4,134.5 92.5,132.0 92.9,131.5 93.0,129.0 93.4,128.5 93.5,124.5 93.9,124.0 94.0,108.5 93.9,108.0 93.5,107.5 93.4,104.0 93.0,103.5 92.9,100.5 92.5,100.0 92.4,97.5 92.0,97.0 91.9,94.0 91.5,93.5 91.4,91.5 91.0,91.1 90.9,89.5 90.5,89.1 90.4,87.0 90.0,86.6 89.9,85.5 89.5,85.0 89.4,84.0 89.0,83.6 88.9,82.5 88.5,82.0 88.5,81.0 88.0,80.5 87.8,79.5 87.5,79.2 87.4,78.0 86.5,76.5 86.4,75.5 86.0,75.1 85.9,74.5 85.5,74.1 85.5,73.5 85.0,73.0 84.7,72.0 84.0,71.0 83.9,70.5 83.5,70.1 83.5,69.5 83.0,69.0 83.0,68.5 82.0,67.1 81.9,66.5 81.0,65.5 81.0,65.0 79.5,63.0 79.4,62.5 78.5,61.5 78.4,61.0 77.4,59.5 76.5,58.5 76.4,58.0 75.0,56.5 74.3,55.0 69.5,50.0 69.4,49.5 69.0,49.1 68.5,49.0 64.0,44.6 63.5,44.5 61.0,42.1 60.5,42.0 57.0,39.1 56.5,39.0 55.5,38.1 55.0,38.0 54.0,37.1 53.5,37.0 51.0,35.1 49.5,34.5 48.5,33.6 47.0,33.0 46.0,32.1 45.4,32.0 45.0,31.6 44.4,31.5 44.0,31.1 43.4,31.0 43.0,30.6 42.4,30.5 42.0,30.1 41.4,30.0 40.0,29.1 38.9,29.0 38.5,28.6 37.9,28.5 37.5,28.1 36.9,28.0 35.5,27.1 35.5,18.4 37.0,18.6 39.0,19.2 51.2,24.5 63.0,31.1 71.0,36.2 75.0,39.2 78.5,41.5 80.0,43.0 85.0,46.7 88.0,49.3 97.5,58.5 107.6,69.0 125.8,90.0 141.5,112.3 147.2,120.0 151.2,129.0 153.8,136.5 155.4,143.0 156.4,150.0 154.9,155.0 152.5,161.0 149.3,167.5 146.0,173.1 141.1,180.0 137.6,183.0 132.0,187.3 122.8,193.5 111.6,200.0 105.9,204.5 100.3,208.5 89.8,215.0 80.5,221.6 75.0,224.8 69.7,227.5 66.0,229.1 57.5,231.9 52.5,233.3 48.0,234.3 41.0,235.0Z" fill="#fadb15" fill-rule="evenodd"/>
<path d="M42.0,229.0 38.5,229.4 35.5,229.2 35.5,209.1 37.3,208.5 40.0,207.1 40.8,207.0 49.8,202.5 59.0,196.6 60.0,195.6 61.0,195.1 62.5,193.6 63.5,193.1 66.0,190.6 67.0,190.1 72.0,184.7 72.7,183.5 75.0,181.1 75.2,180.5 76.6,179.0 76.6,178.5 78.0,177.0 78.1,176.5 79.5,174.8 80.8,172.5 81.5,171.7 82.2,170.0 83.0,169.0 83.6,167.5 84.5,166.2 85.6,163.5 86.0,163.0 87.1,160.0 87.6,159.5 87.6,158.5 88.6,156.5 88.6,155.5 89.0,155.0 89.7,152.5 90.1,152.0 90.2,151.0 90.5,150.5 90.7,149.0 91.1,148.5 91.1,147.0 91.5,146.5 91.7,145.0 92.0,144.5 92.7,140.0 93.1,139.5 93.2,137.5 93.6,137.0 93.7,135.0 94.1,134.5 94.1,132.5 94.6,131.5 94.7,129.0 95.1,128.5 95.1,125.0 95.6,124.0 95.6,108.0 95.1,107.0 95.1,104.0 94.6,103.0 94.6,100.5 94.2,100.0 94.0,97.5 93.7,97.0 93.6,95.0 93.2,94.0 92.6,90.0 92.2,89.5 92.0,87.7 91.6,87.0 91.5,86.0 91.2,85.5 91.1,84.5 90.7,84.0 90.2,82.5 90.0,81.2 89.0,78.8 88.7,78.5 88.5,77.2 86.0,71.7 84.6,69.5 84.6,69.0 84.1,68.5 83.6,67.0 81.2,63.5 81.0,62.8 80.3,62.0 80.0,61.3 78.6,59.5 78.5,59.0 77.2,57.5 77.0,56.9 75.6,55.5 75.0,54.3 70.0,48.7 65.5,44.4 64.5,43.9 62.5,41.9 61.5,41.4 58.5,38.9 52.5,34.9 48.0,32.4 46.8,31.5 40.8,28.5 40.0,28.4 36.3,26.5 35.5,26.4 35.5,19.3 36.5,19.3 38.8,20.0 51.0,25.4 62.5,31.9 67.0,34.7 69.0,36.3 70.5,37.1 74.2,40.0 76.0,41.0 77.9,42.5 79.0,43.7 84.0,47.5 90.5,53.5 99.6,63.0 105.5,69.6 112.0,77.5 121.6,90.0 130.3,103.5 136.0,113.1 140.6,120.0 144.0,128.5 146.5,136.5 148.0,144.0 148.6,150.0 147.2,153.5 144.4,159.5 141.4,165.0 137.8,170.5 130.3,180.0 122.0,186.4 112.9,192.5 100.2,200.0 94.5,204.3 85.0,210.6 69.5,219.7 62.5,223.1 58.0,224.7 49.5,227.5 42.0,229.0Z" fill="#fbcd16" fill-rule="evenodd"/>
<path d="M38.5,225.5 35.5,225.5 35.5,209.2 37.5,208.6 40.0,207.2 41.0,207.1 50.0,202.6 51.0,201.7 52.5,201.1 58.5,197.1 60.0,195.7 60.5,195.6 62.5,193.7 63.5,193.2 66.0,190.7 67.0,190.2 72.0,184.9 72.8,183.5 75.0,181.3 75.7,180.0 76.7,179.0 76.8,178.5 78.1,177.0 78.2,176.5 79.5,175.0 81.5,171.8 82.3,170.0 83.1,169.0 83.7,167.5 84.5,166.5 87.6,159.5 87.8,158.5 88.7,156.5 88.8,155.5 89.1,155.0 90.6,150.5 91.1,148.5 91.3,147.0 91.6,146.5 92.1,144.5 92.7,140.5 93.2,139.5 93.2,138.0 93.7,137.0 93.7,135.5 94.2,134.5 94.2,132.5 94.7,131.5 94.7,129.5 95.2,128.5 95.2,125.0 95.7,124.0 95.7,108.0 95.2,107.0 95.2,104.0 94.7,103.0 94.7,100.5 94.2,99.5 94.1,97.5 93.7,96.5 93.0,91.5 92.2,89.0 92.1,87.5 90.0,81.0 88.9,78.5 88.5,77.0 86.1,71.5 84.8,69.5 83.7,67.0 80.0,61.0 78.7,59.5 78.6,59.0 77.7,58.0 77.0,56.8 75.8,55.5 75.0,54.1 70.2,49.0 70.1,48.5 69.5,48.3 65.5,44.3 64.5,43.8 62.5,41.8 59.5,39.8 58.0,38.4 52.0,34.4 48.0,32.3 47.0,31.4 41.0,28.4 40.0,28.3 36.5,26.4 35.5,26.3 35.5,20.0 36.5,20.0 38.5,20.7 50.5,26.0 62.0,32.5 66.5,35.4 68.5,37.0 70.0,37.8 73.5,40.7 75.5,41.8 78.4,44.5 83.5,48.4 89.8,54.5 98.2,63.5 104.1,70.5 109.8,78.0 118.4,90.0 126.3,104.0 130.5,112.1 135.0,120.0 137.9,128.0 139.8,135.5 141.1,143.5 141.6,150.0 138.6,156.5 135.4,162.0 130.0,170.0 125.7,175.5 121.7,180.0 115.5,184.8 104.5,192.4 91.7,200.0 81.1,207.5 73.0,212.3 59.0,219.3 48.0,223.3 43.0,224.7 38.5,225.5Z" fill="#fbbc18" fill-rule="evenodd"/>
<path d="M39.0,222.1 37.5,222.4 35.5,222.4 35.5,209.3 37.5,208.7 40.0,207.4 41.0,207.2 50.0,202.7 51.0,201.8 52.5,201.2 60.5,195.7 62.5,193.8 63.5,193.3 66.0,190.8 67.0,190.3 72.1,185.0 73.0,183.5 75.0,181.4 77.3,178.0 78.2,177.0 78.4,176.5 79.7,175.0 83.2,169.0 83.9,167.5 84.6,166.5 87.7,159.5 87.9,158.5 88.6,157.0 88.8,156.0 90.7,150.5 91.2,148.5 91.3,147.5 92.1,145.0 92.9,140.5 93.2,139.5 93.3,138.0 93.8,137.0 93.8,135.5 94.2,134.5 94.2,133.0 94.8,131.5 94.8,129.5 95.2,128.5 95.2,125.5 95.8,124.0 95.8,108.0 95.2,106.5 95.2,104.0 94.8,102.5 94.8,100.5 94.4,99.5 94.2,97.5 93.9,96.5 93.1,91.5 92.3,89.0 92.2,87.5 90.8,83.5 90.2,81.0 88.8,78.0 88.7,77.0 86.2,71.5 84.9,69.5 84.1,67.5 80.1,61.0 78.9,59.5 77.0,56.6 75.9,55.5 75.1,54.0 70.8,49.5 70.2,48.5 69.0,47.7 65.5,44.2 64.5,43.7 62.0,41.3 59.5,39.7 58.0,38.3 52.0,34.3 48.0,32.2 47.0,31.3 41.0,28.3 40.0,28.1 36.5,26.3 35.5,26.1 35.5,20.7 38.0,21.3 50.0,26.6 51.0,27.4 52.5,28.0 61.5,33.2 69.4,38.5 73.0,41.5 74.8,42.5 76.5,43.9 77.4,45.0 82.5,49.0 88.7,55.0 97.0,64.2 102.5,71.0 108.1,79.0 115.3,90.0 122.3,104.0 126.0,112.5 129.6,120.0 131.9,127.5 133.3,134.5 134.3,142.5 134.7,149.5 134.7,150.0 131.9,155.5 125.7,165.5 119.0,174.3 113.8,180.0 110.8,182.5 100.4,190.0 92.8,195.0 84.1,200.0 78.0,204.5 68.1,210.5 61.0,214.0 54.0,217.1 46.0,220.2 39.0,222.1Z" fill="#f9a71b" fill-rule="evenodd"/>
<path d="M37.5,220.1 35.5,220.2 35.5,209.4 37.5,208.8 40.0,207.5 41.0,207.3 50.0,202.8 51.0,202.0 52.5,201.3 60.5,195.8 62.5,194.0 63.5,193.4 65.5,191.4 67.0,190.4 72.2,185.0 73.0,183.7 75.1,181.5 78.8,176.0 79.8,175.0 84.8,166.5 87.7,160.0 88.0,158.6 88.7,157.0 88.9,156.0 90.7,151.0 91.3,149.0 91.4,147.5 92.3,145.0 92.9,141.0 93.3,139.5 93.3,138.5 94.3,134.5 94.3,133.0 94.7,132.0 94.8,130.0 95.3,128.5 95.3,125.5 95.8,124.0 95.8,108.0 95.3,106.5 95.3,104.0 94.8,102.5 94.8,100.5 94.4,99.0 94.3,97.5 93.3,91.5 92.4,89.0 92.3,87.5 91.2,84.0 90.9,83.5 90.3,81.0 88.9,78.0 88.8,77.0 86.3,71.5 85.0,69.4 84.2,67.5 80.4,61.5 80.3,61.0 79.3,60.0 75.2,54.0 70.9,49.5 70.3,48.5 69.0,47.6 65.5,44.1 64.0,43.1 62.0,41.2 59.5,39.5 58.0,38.2 52.0,34.2 48.0,32.0 47.0,31.2 41.0,28.2 40.0,28.0 36.5,26.2 35.5,26.0 35.5,21.3 38.0,21.9 41.5,23.7 42.5,23.8 49.5,27.1 53.0,29.2 55.0,30.2 65.5,36.7 72.5,42.1 74.1,43.0 75.5,44.1 76.7,45.5 81.7,49.5 88.0,55.7 96.0,64.8 101.1,71.5 106.5,79.5 112.8,90.0 119.3,104.5 122.5,113.2 125.3,120.0 127.2,127.5 128.2,134.0 128.8,141.5 128.9,147.5 128.8,150.0 127.1,153.5 123.6,159.5 119.3,166.0 115.2,171.5 108.0,179.8 102.1,184.5 90.5,192.8 78.7,200.0 72.0,204.8 66.5,208.2 56.0,213.5 45.0,217.9 41.0,219.2 37.5,220.1Z" fill="#f7941e" fill-rule="evenodd"/>
<path d="M37.5,218.1 35.5,218.4 35.5,209.5 36.5,209.3 40.4,207.5 41.5,207.2 49.5,203.2 58.5,197.4 62.0,194.5 63.0,193.9 65.5,191.5 66.5,190.9 72.4,185.0 73.0,183.9 75.3,181.5 77.5,178.0 79.9,175.0 80.9,173.5 81.0,173.0 81.9,172.0 82.5,170.4 83.3,169.5 84.0,167.8 84.9,166.5 86.0,163.8 86.3,163.5 87.0,161.5 87.4,161.0 87.4,160.5 87.9,160.0 88.0,159.0 88.9,157.0 88.9,156.0 89.8,154.5 90.0,153.0 90.8,151.5 91.0,150.0 91.4,149.0 91.5,147.5 91.8,147.0 92.0,145.7 92.4,145.0 92.4,144.0 92.7,143.5 93.0,141.0 93.4,140.0 93.4,138.5 93.9,137.5 93.9,136.0 94.4,135.0 94.4,133.0 94.9,132.0 94.9,130.0 95.4,129.0 95.4,125.5 95.9,124.0 95.9,108.0 95.4,106.5 95.4,103.5 94.9,102.5 94.9,100.0 94.5,99.0 93.9,93.5 93.5,92.9 93.3,91.0 93.0,90.6 92.9,89.5 92.5,88.8 92.3,87.0 92.0,86.4 91.8,85.0 90.9,83.5 90.3,80.5 89.4,79.0 88.3,75.5 86.9,73.0 86.2,71.0 85.0,69.2 84.4,67.5 82.5,64.7 82.3,64.0 81.5,63.1 81.4,62.5 78.0,57.9 77.3,56.5 76.0,55.2 75.4,54.0 71.0,49.5 70.0,48.1 69.0,47.5 65.0,43.6 64.0,43.0 62.0,41.1 58.0,38.1 51.5,33.8 50.7,33.5 46.5,30.8 41.5,28.3 40.4,28.0 35.5,25.7 35.5,21.9 37.7,22.5 49.5,27.8 50.3,28.5 52.0,29.3 53.0,30.0 54.5,30.6 55.5,31.4 60.9,34.5 62.0,35.5 65.0,37.2 67.0,39.0 68.0,39.5 72.3,43.0 73.5,43.6 75.0,44.8 76.0,46.0 81.0,50.0 87.4,56.5 95.1,65.5 100.2,72.5 106.7,83.0 110.7,90.5 114.6,100.0 116.5,105.0 121.2,120.0 122.8,128.0 123.4,134.0 123.6,141.0 123.4,150.0 122.1,152.5 117.2,161.0 111.6,169.0 104.5,177.5 102.1,180.0 95.5,185.5 88.1,191.0 83.5,194.2 72.5,201.0 70.5,202.6 65.0,206.2 55.0,211.5 44.5,215.9 40.5,217.3 37.5,218.1Z" fill="#f58420" fill-rule="evenodd"/>
<path d="M37.5,216.6 35.5,217.0 35.5,210.0 36.0,209.6 37.1,209.5 37.5,209.1 39.1,208.5 39.5,208.1 40.6,208.0 41.0,207.6 41.6,207.5 42.0,207.1 42.6,207.0 43.0,206.6 43.6,206.5 44.0,206.1 44.6,206.0 45.0,205.6 45.6,205.5 46.0,205.1 46.6,205.0 47.0,204.6 47.6,204.5 48.0,204.1 48.6,204.0 49.0,203.6 50.5,203.0 51.5,202.1 53.0,201.5 54.0,200.6 54.5,200.5 55.5,199.6 56.0,199.5 57.0,198.6 57.5,198.5 58.5,197.6 59.0,197.5 60.5,196.1 61.0,196.0 63.0,194.1 63.5,194.0 66.5,191.1 67.0,191.0 73.0,185.0 73.0,184.5 76.0,181.5 76.0,181.0 77.0,180.0 77.7,178.5 79.0,177.1 79.1,176.5 80.5,175.0 80.5,174.5 81.5,173.5 81.5,173.0 82.5,172.0 82.5,171.5 84.0,169.1 84.1,168.5 85.0,167.5 85.1,167.0 85.5,166.6 85.5,166.0 86.0,165.5 86.0,165.0 86.5,164.5 86.5,164.0 87.0,163.5 87.0,163.0 87.5,162.5 87.5,162.0 88.0,161.4 88.1,160.5 88.5,160.1 88.6,159.0 89.5,157.5 89.5,156.5 90.0,156.0 90.1,155.0 90.5,154.6 90.5,153.5 91.5,152.0 91.5,151.0 92.0,150.5 92.1,148.5 92.5,148.1 92.6,146.5 93.0,146.1 93.1,145.0 93.5,144.6 93.5,143.0 94.0,142.1 94.0,140.5 94.5,140.0 94.5,138.0 95.0,137.5 95.0,135.5 95.5,135.0 95.5,132.5 96.0,132.0 96.0,129.5 96.5,129.0 96.5,125.0 97.0,124.5 97.0,107.5 96.5,107.0 96.5,103.5 96.0,103.0 96.0,100.0 95.5,99.5 95.5,97.4 95.1,97.0 95.0,94.5 94.5,94.0 94.5,92.4 94.1,92.0 94.0,89.9 93.6,89.5 93.5,88.3 93.2,88.0 93.0,86.0 92.5,85.5 92.5,84.5 91.5,83.0 91.5,81.9 91.1,81.5 91.0,80.3 90.7,80.0 90.5,79.0 89.5,77.5 89.5,76.5 89.0,76.0 89.0,75.4 88.1,74.0 87.5,72.0 87.0,71.5 87.0,71.0 85.5,69.0 85.5,68.5 85.0,68.0 84.5,66.5 83.6,65.5 83.5,65.0 82.0,63.0 82.0,62.5 81.0,61.5 81.0,61.0 79.6,59.5 79.5,58.9 77.5,56.0 76.0,54.5 76.0,54.0 70.6,48.5 70.5,48.0 70.0,47.9 65.5,43.5 65.0,43.4 62.5,41.0 62.0,40.9 58.5,38.0 58.0,37.9 57.0,37.0 56.5,36.9 55.5,36.0 55.0,35.9 54.0,35.0 53.5,34.9 52.5,34.0 51.0,33.4 50.0,32.5 49.5,32.4 49.1,32.0 48.5,31.9 47.5,31.0 46.0,30.4 45.6,30.0 45.0,29.9 44.6,29.5 44.0,29.4 43.6,29.0 43.0,28.9 42.6,28.5 42.0,28.4 41.6,28.0 41.0,27.9 40.6,27.5 39.5,27.4 39.1,27.0 38.5,26.9 38.1,26.5 36.5,25.9 36.1,25.5 35.5,25.5 35.5,22.1 36.0,22.1 36.5,22.6 37.5,22.6 38.0,23.1 38.5,23.1 39.0,23.6 39.5,23.6 41.0,24.6 42.0,24.5 42.5,25.0 43.0,25.0 43.5,25.5 44.0,25.5 45.5,26.5 46.0,26.5 46.5,27.0 47.0,27.0 48.5,28.0 49.0,28.0 50.0,29.0 50.5,29.0 51.0,29.5 51.5,29.5 52.5,30.5 53.0,30.5 53.5,31.0 54.0,31.0 55.0,32.0 55.5,32.0 56.5,32.9 57.1,33.0 58.0,33.7 60.5,35.0 61.5,35.9 64.5,37.7 66.5,39.5 67.5,40.0 72.0,43.7 73.0,44.1 74.5,45.3 75.5,46.5 80.5,50.6 86.7,57.0 94.2,66.0 99.0,72.8 103.7,80.5 108.4,89.5 111.2,96.5 114.1,105.0 117.9,120.0 119.2,127.0 119.6,133.5 119.4,146.0 119.0,150.0 118.7,150.5 113.5,160.0 108.4,167.5 101.6,176.0 98.5,179.4 93.0,184.3 82.3,192.5 73.4,198.5 71.0,199.8 69.0,201.4 64.0,204.7 54.5,210.0 44.0,214.5 40.0,215.9 37.5,216.6Z" fill="#f37621" fill-rule="evenodd"/>
<path d="M36.5,215.6 35.5,215.8 35.5,210.1 36.5,209.6 37.4,209.5 40.0,208.1 40.9,208.0 49.9,203.5 59.2,197.5 62.5,194.7 63.7,194.0 66.0,191.7 67.2,191.0 68.5,189.7 73.0,185.1 73.2,184.5 76.0,181.6 76.1,181.0 77.5,179.5 77.6,179.0 80.5,175.3 81.8,173.0 82.5,172.2 83.2,170.5 84.0,169.6 88.5,160.5 89.6,157.5 89.7,156.5 90.5,155.0 90.6,154.0 91.5,152.3 91.7,151.0 92.1,150.5 92.2,149.5 92.5,149.0 92.6,147.5 93.5,144.9 94.2,141.0 94.6,140.0 94.6,138.5 95.1,137.5 95.1,136.0 95.6,135.0 95.6,133.0 96.1,132.0 96.1,130.0 96.6,129.0 96.6,125.5 97.1,124.5 97.1,107.5 96.6,106.5 96.6,103.5 96.1,102.5 96.1,100.0 95.7,99.0 95.5,97.0 95.2,96.5 95.1,94.5 94.7,93.5 94.0,89.5 93.6,89.0 93.5,87.5 93.2,87.0 93.1,86.0 92.7,85.5 92.5,84.2 91.6,82.5 91.1,80.0 90.2,78.5 89.5,76.2 86.6,70.0 85.7,69.0 84.6,66.5 82.2,63.0 82.0,62.3 79.6,59.0 79.5,58.5 78.1,57.0 78.1,56.5 76.2,54.5 76.0,53.9 71.2,49.0 70.5,47.9 69.5,47.3 65.7,43.5 64.5,42.8 62.7,41.0 61.5,40.3 58.7,38.0 51.9,33.5 46.9,30.5 40.9,27.5 40.0,27.4 36.4,25.5 35.5,25.4 35.5,22.1 36.0,22.1 36.5,22.6 37.5,22.6 38.0,23.1 38.5,23.1 39.0,23.6 39.5,23.6 41.0,24.6 42.0,24.6 42.5,25.1 43.0,25.1 43.5,25.6 44.0,25.6 45.5,26.6 46.0,26.6 46.5,27.1 47.0,27.1 48.5,28.1 49.0,28.1 50.0,29.1 50.5,29.1 51.0,29.6 51.5,29.6 52.5,30.6 53.0,30.6 53.5,31.1 54.0,31.1 55.0,32.1 55.5,32.1 56.5,33.1 57.0,33.1 58.0,34.1 58.5,34.1 59.5,35.1 60.0,35.1 61.5,36.5 62.0,36.5 63.5,38.0 64.0,38.0 66.5,40.5 67.0,40.5 71.5,44.2 72.5,44.6 74.0,45.9 74.5,46.7 80.0,51.2 80.5,52.0 82.2,53.5 82.9,54.5 86.0,57.5 90.7,63.0 93.4,66.5 98.0,73.3 102.4,81.0 106.6,89.5 109.5,97.0 112.0,105.5 115.0,120.0 116.0,127.0 116.2,132.5 115.8,142.5 115.0,150.0 110.1,159.0 105.2,166.5 98.7,175.0 94.3,180.0 85.1,188.0 82.3,190.0 81.0,191.2 72.1,197.5 70.5,198.3 63.0,203.6 53.5,208.9 43.5,213.3 36.5,215.6Z" fill="#f16623" fill-rule="evenodd"/>
<path d="M36.5,214.6 35.5,214.9 35.5,210.2 37.5,209.6 40.0,208.2 41.0,208.1 50.0,203.6 52.5,202.1 59.4,197.5 62.5,194.9 63.9,194.0 66.0,191.9 67.4,191.0 73.0,185.3 73.7,184.0 76.2,181.5 76.3,181.0 77.6,179.5 77.7,179.0 80.5,175.5 84.0,169.7 84.8,168.0 85.6,167.0 88.6,160.5 92.2,150.5 92.3,149.5 92.6,149.0 92.7,147.5 93.5,145.3 94.3,141.0 94.7,140.0 95.2,136.0 95.7,135.0 95.7,133.0 96.2,132.0 96.2,130.0 96.7,129.0 96.7,125.5 97.2,124.5 97.2,107.5 96.7,106.5 96.7,103.5 96.2,102.5 96.2,100.0 95.8,99.0 95.6,97.0 95.3,96.0 95.3,95.0 94.5,91.0 94.1,89.5 93.7,89.0 93.6,87.5 93.3,87.0 92.5,84.0 91.8,82.5 91.1,80.0 88.1,73.0 86.6,70.0 85.9,69.0 85.0,67.0 81.0,60.5 78.2,57.0 78.2,56.5 76.3,54.5 76.0,53.7 71.4,49.0 70.7,48.0 62.9,41.0 58.9,38.0 52.9,34.0 47.0,30.4 41.0,27.4 40.0,27.3 36.5,25.4 35.5,25.3 35.5,22.2 36.0,22.2 36.5,22.7 37.5,22.7 38.0,23.2 38.5,23.2 39.0,23.7 39.5,23.7 41.0,24.7 42.0,24.7 42.5,25.2 43.0,25.2 43.5,25.7 44.0,25.7 45.5,26.7 46.0,26.7 46.5,27.2 47.0,27.2 48.5,28.2 49.0,28.2 50.0,29.2 50.5,29.2 51.0,29.7 51.5,29.7 52.5,30.7 53.0,30.7 53.5,31.2 54.0,31.2 55.0,32.2 55.5,32.2 56.5,33.2 57.0,33.2 58.0,34.1 58.5,34.1 59.5,35.1 60.0,35.1 61.5,36.6 62.0,36.6 63.5,38.1 64.0,38.1 66.5,40.6 67.0,40.6 71.5,45.0 72.0,45.0 73.5,46.3 73.9,47.0 79.5,51.7 80.0,52.5 81.8,54.0 82.4,55.0 85.5,58.0 90.1,63.5 92.7,67.0 97.0,73.5 101.2,81.0 105.4,90.0 107.9,97.0 109.1,101.0 109.4,103.0 110.3,105.5 112.7,120.0 113.5,126.5 113.4,129.5 113.5,132.0 112.7,144.5 111.8,150.0 107.6,158.0 102.6,166.0 96.7,174.0 92.4,179.0 83.8,187.0 81.1,189.0 79.5,190.5 71.4,196.5 66.0,199.9 62.5,202.5 53.0,208.0 43.0,212.4 42.0,212.7 39.0,213.9 36.5,214.6Z" fill="#f05824" fill-rule="evenodd"/>
<path d="M35.5,214.0 35.5,210.2 37.5,209.7 40.0,208.3 41.0,208.2 50.0,203.7 59.5,197.6 64.0,194.1 66.1,192.0 67.5,191.1 73.0,185.4 73.8,184.0 76.2,181.5 76.4,181.0 77.7,179.5 77.8,179.0 79.2,177.5 79.3,177.0 80.6,175.5 85.7,167.0 88.7,160.5 90.9,154.0 91.6,152.5 92.7,149.0 92.8,147.5 93.6,145.5 94.7,140.5 94.9,138.5 95.8,135.0 95.9,133.0 96.2,132.0 96.4,130.0 96.8,129.0 96.8,126.0 97.2,124.5 97.2,107.5 96.8,106.0 96.8,103.5 96.3,102.0 96.2,100.0 95.8,98.5 95.8,97.5 94.6,91.0 93.9,89.0 93.7,87.5 92.6,84.0 91.9,82.5 91.2,80.0 89.2,75.0 85.1,67.0 81.3,61.0 81.1,60.5 79.8,59.0 79.7,58.5 76.8,55.0 76.0,53.6 70.8,48.0 66.0,43.4 64.6,42.5 63.0,40.9 59.0,37.9 53.0,33.9 47.0,30.3 41.0,27.3 40.0,27.2 36.5,25.3 35.5,25.2 35.5,22.3 36.0,22.3 36.5,22.8 37.5,22.8 38.0,23.3 38.5,23.3 39.0,23.8 39.5,23.8 41.0,24.8 42.0,24.8 42.5,25.3 43.0,25.3 43.5,25.8 44.0,25.8 45.5,26.8 46.0,26.8 46.5,27.3 47.0,27.3 48.5,28.3 49.0,28.3 50.0,29.3 50.5,29.3 51.0,29.8 51.5,29.8 52.5,30.8 53.0,30.8 53.5,31.2 54.0,31.2 55.0,32.2 55.5,32.2 56.5,33.2 57.0,33.2 58.0,34.2 58.5,34.2 59.5,35.2 60.0,35.2 61.5,36.7 62.0,36.7 63.5,38.2 64.0,38.2 66.5,40.7 67.0,40.7 71.5,45.1 72.0,45.1 73.4,46.5 73.4,47.0 81.3,54.5 81.9,55.5 83.0,56.4 83.3,57.0 84.5,58.0 87.0,61.0 91.7,67.0 96.2,74.0 100.3,81.5 104.1,90.0 106.5,97.0 108.6,105.5 110.6,120.0 111.2,127.0 111.0,129.5 111.2,132.0 110.7,138.5 110.0,144.0 108.9,150.0 105.5,157.0 100.7,165.0 95.0,173.0 90.9,178.0 88.1,181.0 78.7,189.5 70.5,195.8 69.1,196.5 66.5,198.5 65.5,199.0 61.5,201.9 52.8,207.0 42.5,211.7 41.5,211.8 39.0,213.0 38.0,213.1 35.5,214.0Z" fill="#ee4925" fill-rule="evenodd"/>
<path d="M35.5,213.5 35.5,210.3 37.5,209.8 40.0,208.4 41.0,208.3 50.0,203.8 59.5,197.7 62.7,195.0 64.0,194.2 66.2,192.0 67.5,191.2 73.0,185.5 73.9,184.0 76.3,181.5 76.9,180.5 77.8,179.5 77.9,179.0 79.3,177.5 79.4,177.0 80.7,175.5 80.8,175.0 82.7,172.5 83.3,171.0 84.1,170.0 86.7,165.0 89.2,159.5 89.3,158.5 89.7,158.0 91.0,154.1 91.7,152.5 92.3,150.0 92.8,149.0 92.9,147.5 93.7,145.5 94.8,140.5 94.9,139.0 95.8,135.0 95.9,133.5 96.3,132.0 96.4,130.5 96.8,129.0 96.9,126.0 97.3,124.5 97.3,107.5 96.9,106.0 96.8,103.5 96.4,102.0 96.3,100.0 95.9,98.5 95.1,93.0 94.8,92.5 94.7,91.0 94.4,90.5 94.3,89.5 93.8,88.5 93.8,87.5 92.7,84.0 92.0,82.5 91.3,80.0 90.3,78.0 89.7,76.0 85.2,67.0 82.5,62.8 82.2,62.0 81.3,61.0 81.2,60.5 79.9,59.0 79.8,58.5 76.9,55.0 76.0,53.5 70.9,48.0 66.0,43.3 64.7,42.5 63.0,40.8 59.0,37.8 53.0,33.8 48.0,30.8 41.0,27.2 40.0,27.1 36.5,25.2 35.5,25.1 35.5,22.3 36.0,22.3 36.5,22.8 37.5,22.8 38.0,23.3 38.5,23.3 39.0,23.8 39.5,23.8 41.0,24.8 42.0,24.8 42.5,25.3 43.0,25.3 43.5,25.8 44.0,25.8 45.5,26.8 46.0,26.8 46.5,27.3 47.0,27.3 48.5,28.3 49.0,28.3 50.0,29.3 50.5,29.3 51.0,29.8 51.5,29.8 52.5,30.8 53.0,30.8 53.5,31.3 54.0,31.3 55.0,32.3 55.5,32.3 56.5,33.3 57.0,33.3 58.0,34.3 58.5,34.3 59.5,35.3 60.0,35.3 61.5,36.8 62.0,36.8 63.5,38.3 64.0,38.3 66.5,40.8 67.0,40.8 71.5,45.2 72.0,45.2 73.3,46.5 73.3,47.0 78.9,52.5 78.9,53.0 80.9,55.0 81.0,55.5 84.1,58.5 91.1,67.5 95.6,74.5 99.5,82.0 103.1,90.5 105.4,97.5 105.7,99.5 106.4,101.5 106.6,103.5 107.4,106.0 109.5,127.0 109.2,129.0 109.3,132.0 108.7,138.5 107.9,144.0 106.7,150.0 103.6,156.5 99.3,164.0 93.8,172.0 89.8,177.0 87.2,180.0 81.6,185.5 79.0,187.5 78.0,188.7 70.0,195.1 68.5,195.9 66.0,197.9 65.0,198.3 63.5,199.6 62.5,200.0 61.4,201.0 55.0,204.9 53.5,205.5 52.5,206.3 42.2,211.0 41.0,211.1 40.5,211.5 40.0,211.5 39.5,212.0 39.0,212.0 38.5,212.5 37.5,212.5 37.0,213.0 36.0,213.0 35.5,213.5Z" fill="#ec3b26" fill-rule="evenodd"/>
<path d="M35.5,213.2 35.5,210.4 37.5,209.9 40.1,208.5 41.0,208.4 51.0,203.3 59.5,197.8 60.3,197.0 61.5,196.3 62.8,195.0 64.0,194.3 66.3,192.0 67.5,191.3 73.2,185.5 74.0,184.2 76.4,181.5 78.4,178.5 79.4,177.5 79.5,177.0 80.9,175.5 80.9,175.0 82.8,172.5 83.4,171.0 84.3,170.0 85.0,168.3 85.7,167.5 89.3,159.5 89.4,158.5 89.9,158.0 90.4,156.0 90.8,155.5 91.5,153.0 91.9,152.5 92.4,150.0 92.9,149.0 93.0,147.5 93.4,147.0 93.4,146.0 93.8,145.5 93.9,144.5 94.2,144.0 94.9,139.0 95.4,138.0 95.5,136.3 95.9,135.5 95.9,133.5 96.4,132.5 96.4,130.5 96.9,129.5 96.9,126.0 97.4,124.5 97.4,107.5 96.9,106.0 96.9,103.0 96.4,102.0 96.4,99.5 96.0,98.5 95.7,95.0 95.4,94.5 95.3,93.0 94.9,92.5 94.9,91.0 94.5,90.5 94.4,89.5 93.9,88.5 93.8,87.0 93.4,86.5 93.3,85.5 92.0,82.2 91.3,79.5 90.4,78.0 90.3,77.0 87.3,70.5 86.5,69.5 84.2,65.0 82.5,62.7 82.3,62.0 81.4,61.0 81.4,60.5 80.0,59.0 79.9,58.5 77.0,54.9 76.2,53.5 71.5,48.7 71.1,48.0 66.0,43.2 64.8,42.5 63.0,40.7 61.8,40.0 59.0,37.7 53.0,33.7 51.6,33.0 48.0,30.7 41.0,27.1 40.1,27.0 36.5,25.1 35.6,25.0 35.5,22.4 36.0,22.4 36.5,22.9 37.5,22.9 38.0,23.4 38.5,23.4 39.0,23.9 39.5,23.9 41.0,24.9 42.0,24.9 42.5,25.4 43.0,25.4 43.5,25.9 44.0,25.9 45.5,26.9 46.0,26.9 46.5,27.4 47.0,27.4 48.5,28.4 49.0,28.4 50.0,29.4 50.5,29.4 51.0,29.9 51.5,29.9 52.5,30.9 53.0,30.9 53.5,31.4 54.0,31.4 55.0,32.4 55.5,32.4 56.5,33.4 57.0,33.4 58.0,34.4 58.5,34.4 59.5,35.4 60.0,35.4 61.5,36.9 62.0,36.9 63.5,38.4 64.0,38.4 66.5,40.9 67.0,40.9 71.5,45.4 72.1,45.5 73.1,46.5 73.1,47.0 78.7,52.5 78.7,53.0 80.7,55.0 80.7,55.5 82.3,57.0 82.3,57.5 83.8,59.0 83.9,59.5 84.9,60.5 84.9,61.0 88.1,64.5 89.6,67.0 90.6,68.0 94.6,74.5 96.5,78.0 97.5,80.5 98.5,82.0 101.3,88.5 104.3,97.5 104.7,100.0 105.2,101.5 105.4,103.5 106.1,106.0 107.9,126.5 107.6,128.5 107.6,131.5 106.9,138.0 106.1,143.5 104.6,150.0 101.9,156.0 97.7,163.5 92.4,171.5 88.5,176.5 84.5,181.0 80.6,185.0 78.0,187.0 77.3,188.0 69.4,194.5 68.2,195.0 65.5,197.3 64.5,197.7 63.0,199.0 62.0,199.4 60.7,200.5 60.0,200.6 59.0,201.5 58.5,201.5 57.5,202.5 57.0,202.5 56.0,203.4 55.5,203.4 54.5,204.4 54.0,204.4 53.5,204.9 53.0,204.9 52.0,205.9 51.5,205.9 50.0,206.9 49.5,206.8 49.0,207.3 48.5,207.3 48.0,207.8 47.5,207.8 47.0,208.3 46.5,208.3 45.0,209.3 44.5,209.3 44.0,209.8 43.5,209.8 43.0,210.3 42.5,210.3 42.0,210.8 41.0,210.8 39.5,211.8 39.0,211.8 38.5,212.3 37.5,212.3 37.0,212.8 36.0,212.7 35.5,213.2Z" fill="#ea2c27" fill-rule="evenodd"/>
<path d="M35.5,213.0 35.5,210.5 36.5,210.4 36.9,210.0 38.0,209.9 40.4,208.5 41.5,208.4 41.9,208.0 43.5,207.4 43.9,207.0 44.5,206.9 44.9,206.5 45.5,206.4 47.9,205.0 48.5,204.9 48.9,204.5 49.5,204.4 49.9,204.0 50.5,203.9 51.5,203.0 53.0,202.4 54.0,201.5 54.5,201.4 55.5,200.5 56.0,200.4 58.5,198.5 59.0,198.4 60.5,197.0 61.0,196.9 63.0,195.0 63.5,194.9 66.5,192.0 67.0,191.9 67.5,191.5 73.4,185.5 73.5,185.0 76.4,182.0 76.5,181.4 78.4,179.0 78.5,178.5 81.0,175.5 81.0,175.2 82.0,174.0 82.0,173.5 83.0,172.5 83.5,171.0 84.5,170.0 85.0,168.5 85.9,167.5 86.0,166.9 86.4,166.5 86.5,165.9 87.4,164.5 87.5,163.6 88.0,163.0 88.0,162.5 88.5,162.0 88.5,161.4 89.4,160.0 89.5,158.7 90.0,158.0 90.0,157.5 90.5,157.0 90.5,156.0 91.4,154.5 91.5,153.4 91.9,153.0 92.0,151.9 92.4,151.5 92.5,150.0 93.0,149.5 93.0,147.9 93.4,147.5 93.5,146.2 94.0,145.5 94.0,144.5 94.4,144.0 94.5,142.4 94.9,142.0 95.0,139.3 95.4,138.5 95.5,136.8 95.9,136.0 96.0,133.8 96.4,133.0 96.5,130.8 96.9,130.0 97.0,126.3 97.4,125.5 97.5,124.5 97.5,107.0 97.3,106.0 97.0,105.7 96.9,102.5 96.5,101.7 96.4,97.5 96.0,97.0 95.9,95.0 95.5,94.5 95.5,93.0 95.0,92.4 94.9,90.5 94.5,90.1 94.4,89.0 94.0,88.6 94.0,87.0 93.5,86.4 93.4,85.0 93.0,84.6 92.9,83.5 92.5,83.1 92.3,82.0 92.0,81.7 91.9,80.5 91.0,79.0 91.0,78.5 90.5,78.0 90.5,77.0 90.0,76.5 89.4,74.5 88.5,73.1 88.4,72.5 88.0,72.1 88.0,71.5 87.5,71.0 87.5,70.5 86.0,68.2 85.4,66.5 84.5,65.5 84.4,65.0 83.5,64.0 83.5,63.5 82.5,62.5 82.5,62.0 81.5,61.0 81.5,60.5 80.5,59.5 80.4,59.0 79.0,57.4 78.4,56.0 76.5,54.0 76.4,53.5 71.5,48.5 71.4,48.0 70.5,47.1 70.0,47.0 65.5,42.6 65.0,42.5 62.5,40.1 62.0,40.0 58.5,37.1 58.0,37.0 55.5,35.1 55.0,35.0 54.0,34.1 53.5,34.0 52.5,33.1 51.9,33.0 51.5,32.6 51.0,32.5 50.0,31.6 48.5,31.0 47.5,30.1 46.9,30.0 46.5,29.6 44.9,29.0 44.5,28.6 41.9,27.5 41.5,27.1 40.4,27.0 39.0,26.1 37.4,25.5 37.0,25.1 35.9,25.0 35.5,24.6 35.5,22.5 36.0,22.5 36.5,23.0 37.5,23.0 38.0,23.5 38.5,23.5 39.0,24.0 39.5,24.0 41.0,25.0 42.0,25.0 42.5,25.5 43.0,25.5 43.5,26.0 44.0,26.0 45.5,27.0 46.0,27.0 46.5,27.5 47.0,27.5 48.5,28.5 49.0,28.5 50.0,29.5 50.5,29.5 51.0,30.0 51.5,30.0 52.5,31.0 53.0,31.0 53.5,31.5 54.0,31.5 55.0,32.5 55.5,32.5 56.5,33.5 57.0,33.5 58.0,34.5 58.5,34.5 59.5,35.5 60.0,35.5 61.5,37.0 62.0,37.0 63.5,38.5 64.0,38.5 66.5,41.0 67.0,41.0 71.5,45.5 72.0,45.5 73.0,46.5 73.0,47.0 78.5,52.5 78.5,53.0 80.5,55.0 80.5,55.5 82.1,57.0 82.1,57.5 83.6,59.0 83.6,59.5 84.6,60.5 84.6,61.0 85.6,62.0 85.6,62.5 86.6,63.5 86.6,64.0 87.7,65.0 87.7,65.5 88.2,66.0 88.3,66.5 88.9,67.0 89.0,67.5 90.0,68.3 94.1,75.0 94.4,76.0 96.0,78.5 96.8,80.5 97.9,82.5 99.2,85.5 99.4,86.5 100.6,89.0 103.5,98.0 103.7,100.0 104.3,101.5 104.5,104.0 105.1,106.0 106.6,126.5 106.2,128.5 106.3,131.5 104.7,143.0 103.8,147.5 102.3,152.0 100.6,155.5 96.6,163.0 91.4,171.0 87.6,176.0 83.7,180.5 82.5,181.5 80.0,184.3 77.3,186.5 76.6,187.5 69.5,193.5 68.8,194.0 68.0,194.3 65.0,196.7 64.5,196.7 62.5,198.6 62.0,198.6 60.5,200.1 60.0,200.1 59.0,201.1 58.5,201.1 57.5,202.1 57.0,202.1 56.0,203.1 55.5,203.1 54.5,204.1 54.0,204.1 53.5,204.6 53.0,204.6 52.0,205.6 51.5,205.6 50.0,206.6 49.5,206.6 49.0,207.1 48.5,207.1 48.0,207.6 47.5,207.6 47.0,208.1 46.5,208.1 45.0,209.1 44.5,209.1 44.0,209.6 43.5,209.6 43.0,210.1 42.5,210.1 42.0,210.6 41.0,210.6 39.5,211.6 39.0,211.6 38.5,212.1 37.5,212.1 37.0,212.6 36.0,212.5 35.5,213.0Z" fill="#e72028" fill-rule="evenodd"/>
<path d="M93.0,75.0 93.0,74.8 93.0,75.0ZM93.5,76.6 93.5,75.4 93.9,76.5 93.5,76.6ZM76.0,187.0 75.5,187.5 75.4,187.0 75.8,186.5 75.8,186.0 78.7,183.0 78.7,182.5 80.2,181.0 80.2,180.5 81.7,179.0 81.7,178.5 83.1,177.0 83.1,176.5 84.1,175.5 84.1,175.0 85.1,174.0 85.1,173.5 85.6,173.0 85.6,172.5 86.6,171.5 86.6,171.0 87.1,170.5 87.1,170.0 88.1,169.0 88.1,168.5 89.1,167.0 89.1,166.5 89.6,166.0 89.6,165.5 90.6,164.0 90.6,163.5 91.1,163.0 91.1,162.5 91.6,162.0 91.6,161.5 92.1,161.0 92.1,160.0 93.1,158.5 93.1,157.5 94.1,156.0 94.1,155.0 95.1,153.5 95.1,152.5 95.6,152.0 95.6,151.0 96.1,150.5 96.1,149.0 96.6,148.5 96.6,147.5 97.1,147.0 97.1,146.0 97.6,145.5 97.6,144.0 98.1,143.5 98.1,142.0 98.6,141.5 98.6,139.5 99.1,139.0 99.1,137.0 99.6,136.5 99.6,134.0 100.1,133.5 100.1,131.0 100.6,130.5 100.6,126.5 101.1,126.0 101.1,106.0 100.6,105.5 100.6,102.0 100.1,101.5 100.1,98.5 99.6,98.0 99.6,96.0 99.1,95.5 99.1,93.5 98.6,93.0 98.6,91.5 98.1,91.0 98.1,89.5 97.7,89.0 97.7,88.0 97.2,87.5 97.2,86.0 96.7,85.5 96.7,84.5 96.2,84.0 96.2,83.0 95.2,81.5 95.3,80.5 94.8,80.0 94.8,79.0 93.8,77.5 94.0,76.6 95.1,78.5 96.1,81.0 97.1,82.5 97.3,83.5 98.4,85.5 98.8,87.0 99.7,89.0 100.6,92.0 101.1,93.0 101.3,94.5 101.8,95.5 102.0,97.0 102.5,98.0 102.8,100.5 103.3,101.5 103.5,104.0 104.0,105.5 105.3,126.0 105.0,128.0 105.1,131.0 104.7,132.5 104.2,137.5 103.4,142.5 101.5,150.0 99.4,155.0 95.5,162.5 90.4,170.5 88.0,173.5 87.0,175.1 82.9,180.0 80.0,182.8 79.5,183.7 76.7,186.0 76.0,187.0ZM75.0,187.8 75.0,187.4 75.4,187.5 75.0,187.8ZM74.5,188.2 74.5,187.9 74.8,188.0 74.5,188.2Z" fill="#de1f26" fill-rule="evenodd"/>
<path d="M96.0,82.5 96.0,82.3 96.0,82.5ZM96.5,84.1 96.5,82.9 96.9,84.0 96.5,84.1ZM80.5,181.5 80.0,181.9 79.9,181.5 80.4,181.0 80.4,180.5 81.9,179.0 81.9,178.5 83.3,177.0 83.3,176.5 84.3,175.5 84.3,175.0 85.3,174.0 85.3,173.5 85.8,173.0 85.8,172.5 86.8,171.5 86.8,171.0 87.2,170.5 87.2,170.0 88.2,169.0 88.2,168.5 89.2,167.0 89.2,166.5 89.7,166.0 89.7,165.5 90.7,164.0 90.7,163.5 91.2,163.0 91.2,162.5 91.7,162.0 91.7,161.5 92.2,161.0 92.2,160.0 93.2,158.5 93.2,157.5 94.2,156.0 94.2,155.0 95.2,153.5 95.2,152.5 95.7,152.0 95.7,151.0 96.2,150.5 96.2,149.0 96.7,148.5 96.7,147.5 97.2,147.0 97.2,146.0 97.7,145.5 97.7,144.0 98.2,143.5 98.2,142.0 98.7,141.5 98.7,139.5 99.2,139.0 99.2,137.0 99.7,136.5 99.7,134.0 100.2,133.5 100.2,131.0 100.7,130.5 100.7,126.5 101.2,126.0 101.2,106.0 100.7,105.5 100.7,102.0 100.2,101.5 100.2,98.5 99.7,98.0 99.8,96.0 99.3,95.5 99.3,93.5 98.8,93.0 98.8,91.5 98.3,91.0 98.3,89.5 97.8,89.0 97.9,88.0 97.4,87.5 97.4,86.0 96.9,85.5 97.0,84.1 97.8,86.0 97.9,87.0 99.0,89.0 100.0,92.5 100.3,93.0 101.2,97.0 101.7,98.0 102.0,100.5 102.6,102.0 102.7,104.5 103.3,106.0 104.4,126.0 103.9,128.0 104.0,131.0 103.2,135.5 103.2,137.0 101.4,146.5 99.8,151.5 98.3,155.0 94.7,162.0 89.7,170.0 84.0,177.6 83.0,178.5 80.5,181.5ZM79.5,182.3 79.5,181.9 79.9,182.0 79.5,182.3ZM79.0,183.1 79.0,182.5 79.3,182.5 79.0,183.1Z" fill="#d71e25" fill-rule="evenodd"/>
<path d="M98.5,91.0 98.5,90.3 98.5,91.0ZM99.0,93.0 99.0,91.3 99.2,92.5 99.5,93.0 99.0,93.0ZM85.5,174.4 85.4,173.5 85.9,173.0 85.9,172.5 86.9,171.5 86.9,171.0 87.4,170.5 87.4,170.0 88.4,169.0 88.4,168.5 89.4,167.0 89.3,166.5 89.8,166.0 89.8,165.5 90.8,164.0 90.8,163.5 91.3,163.0 91.3,162.5 91.8,162.0 91.8,161.5 92.3,161.0 92.3,160.0 93.3,158.5 93.3,157.5 94.3,156.0 94.3,155.0 95.3,153.5 95.3,152.5 95.7,152.0 95.7,151.0 96.2,150.5 96.2,149.0 96.7,148.5 96.7,147.5 97.2,147.0 97.2,146.0 97.7,145.5 97.7,144.0 98.2,143.5 98.2,142.0 98.7,141.5 98.7,139.5 99.2,139.0 99.2,137.0 99.8,136.5 99.8,134.0 100.3,133.5 100.3,131.0 100.8,130.5 100.8,126.5 101.3,126.0 101.3,106.0 100.8,105.5 100.9,102.0 100.4,101.5 100.4,98.5 99.9,98.0 99.9,96.0 99.4,95.5 99.5,93.0 99.8,95.0 100.4,96.0 100.5,97.5 101.1,98.5 101.3,101.0 101.8,102.0 101.9,104.5 102.5,106.0 103.4,126.0 103.0,127.5 103.0,131.0 102.6,132.0 102.6,134.0 102.2,135.0 102.2,137.0 101.8,138.0 101.3,142.0 100.3,146.5 98.9,151.0 97.4,154.5 96.5,156.0 93.6,162.0 89.0,169.5 88.1,170.5 85.5,174.4ZM85.0,174.8 85.0,174.5 85.4,174.5 85.0,174.8ZM84.5,175.7 84.5,175.0 84.8,175.0 84.5,175.7Z" fill="#ce1d23" fill-rule="evenodd"/>
<path d="M100.5,101.5 100.5,100.2 100.5,101.5ZM101.0,105.5 101.0,101.8 101.2,105.0 101.5,105.5 101.0,105.5ZM90.0,166.4 90.0,165.5 90.9,164.0 90.9,163.5 91.4,163.0 91.4,162.5 91.9,162.0 91.9,161.5 92.4,161.0 92.4,160.0 93.4,158.5 93.4,157.5 94.4,156.0 94.4,155.0 95.4,153.5 95.3,152.5 95.8,152.0 95.8,151.0 96.3,150.5 96.3,149.0 96.8,148.5 96.8,147.5 97.3,147.0 97.3,146.0 97.8,145.5 97.8,144.0 98.3,143.5 98.3,142.0 98.8,141.5 98.8,139.5 99.3,139.0 99.3,137.0 99.8,136.5 99.8,134.0 100.3,133.5 100.4,131.0 100.9,130.5 100.9,126.5 101.4,126.0 101.5,105.5 101.7,106.0 102.5,126.0 102.1,127.5 102.1,131.0 101.7,132.0 101.7,134.0 101.3,135.0 101.3,137.0 100.9,138.0 100.8,139.5 100.4,140.5 100.4,142.0 99.5,145.0 99.4,146.0 98.1,150.0 97.9,151.0 96.6,154.0 94.5,158.0 94.2,159.0 93.2,160.5 93.0,161.5 90.0,166.4ZM89.5,167.2 89.5,166.5 89.8,166.5 89.5,167.2ZM89.0,168.0 89.1,167.5 89.0,168.0Z" fill="#c41c21" fill-rule="evenodd"/>
<path d="M94.0,157.5 94.0,156.5 94.5,156.0 94.5,155.0 95.4,153.5 95.4,152.5 95.9,152.0 95.9,151.0 96.4,150.5 96.4,149.0 96.9,148.5 96.9,147.5 97.4,147.0 97.4,146.0 97.9,145.5 97.9,144.0 98.4,143.5 98.4,142.0 98.9,141.5 98.9,139.5 99.4,139.0 99.4,137.0 99.9,136.5 99.9,134.0 100.4,133.5 100.4,131.0 100.9,130.5 101.0,126.5 101.5,126.0 101.5,117.1 101.8,126.0 101.4,127.0 101.5,130.5 101.0,131.5 101.0,133.5 100.5,134.5 100.6,136.5 100.1,137.5 100.1,139.0 99.7,140.0 99.7,141.5 99.2,142.5 99.2,143.5 98.7,144.5 98.6,146.0 97.3,149.5 97.1,151.0 94.0,157.5ZM93.5,158.7 93.5,157.5 93.9,157.5 93.5,158.7ZM93.0,159.6 93.0,159.0 93.2,159.0 93.0,159.6Z" fill="#b31a1f" fill-rule="evenodd"/>
<path d="M168,196C169.33,192.93 173.69,199.93 176,202C178.31,204.07 182.27,208.1 185.3,211.5C188.33,214.9 195.5,223.17 198.7,227.5C201.9,231.83 206.82,239.67 209.3,244C211.78,248.33 215.61,255.87 217.3,260C218.99,264.13 220.91,270.87 222,275C223.09,279.13 224.7,286.6 225.5,291C226.3,295.4 227.44,303.47 228,308C228.56,312.53 229.77,320.87 229.7,325C229.63,329.13 228.53,336.2 227.5,339C226.47,341.8 223.53,345 222,346C220.47,347 218.03,346.77 216,346.5C213.97,346.23 208.83,345.93 206.8,344C204.77,342.07 202.56,335.83 200.8,332C199.04,328.17 195.52,319.78 193.6,315.3C191.68,310.82 188.32,302.89 186.4,298.4C184.48,293.91 180.8,285.44 179.2,281.6C177.6,277.76 175.36,272.21 174.4,269.6C173.44,266.99 172.59,264.61 172,262C171.41,259.39 170.8,254.93 170,250C169.2,245.07 166.27,232.2 166,225C165.73,217.8 166.67,199.07 168,196Z" fill="#ed1c24"/>
<path d="M128,183C130.13,180.87 136.93,174.35 140,174C143.07,173.65 148.15,178.48 151,180.4C153.85,182.32 158.73,186.05 161.4,188.4C164.07,190.75 168.79,195.65 171,198C173.21,200.35 175.73,203.13 178,206C180.27,208.87 185.24,215.57 188,219.5C190.76,223.43 196.21,231.53 198.7,235.5C201.19,239.47 204.93,245.37 206.7,249.3C208.47,253.23 210.69,261.01 212,265C213.31,268.99 215.43,274.75 216.5,279.2C217.57,283.65 219.47,293.89 220,298.4C220.53,302.91 220.77,309.85 220.5,313C220.23,316.15 218.93,320.8 218,322C217.07,323.2 214.51,322.57 213.5,322C212.49,321.43 211.77,319.89 210.4,317.7C209.03,315.51 205.44,309.13 203.2,305.6C200.96,302.07 196.16,295.36 193.6,291.2C191.04,287.04 186.52,278.16 184,274.4C181.48,270.64 177.23,265.59 174.7,263C172.17,260.41 167.63,257.13 165,255C162.37,252.87 157.67,249.4 155,247C152.33,244.6 147.67,239.8 145,237C142.33,234.2 137.4,229.07 135,226C132.6,222.93 128.47,217.2 127,214C125.53,210.8 124.4,205.2 124,202C123.6,198.8 123.47,192.53 124,190C124.53,187.47 125.87,185.13 128,183Z" fill="#f7941d"/>
<path d="M106,180C106.4,178 114.8,178.6 118,177C121.2,175.4 127.07,169.47 130,168C132.93,166.53 137.73,165.07 140,166C142.27,166.93 145.43,172.65 147,175C148.57,177.35 150.31,181.39 151.8,183.6C153.29,185.81 156.49,189.04 158.2,191.6C159.91,194.16 163.03,200.08 164.6,202.8C166.17,205.52 168.35,209.44 170,212C171.65,214.56 175,219.73 177,222C179,224.27 183.33,226.07 185,229C186.67,231.93 188.77,240.8 189.5,244C190.23,247.2 190.83,251.13 190.5,253C190.17,254.87 188.13,257.47 187,258C185.87,258.53 183.64,258.33 182,257C180.36,255.67 177.46,251.07 174.7,248C171.94,244.93 164.86,237.33 161.3,234C157.74,230.67 151.28,225.4 148,223C144.72,220.6 139.77,218.4 136.7,216C133.63,213.6 127.89,208.2 125,205C122.11,201.8 117.53,195.33 115,192C112.47,188.67 105.6,182 106,180Z" fill="#00a651"/>
<path d="M135,162C135.5,161 140.75,164.5 142,166C143.25,167.5 146.5,174.7 147.5,177C148.5,179.3 151.25,186.75 152,189C152.75,191.25 154.75,197.8 155,199.5C155.25,201.2 155.05,205.1 154.5,206C153.95,206.9 150.5,208.5 149.5,208.5C148.5,208.5 145.45,207.65 144.5,206C143.55,204.35 140.75,195 140,192C139.25,189 137.5,179 137,176C136.5,173 134.5,163 135,162Z" fill="#3a4ea6"/>
<path d="M101.5,121C101.87,120.94 103.62,121.62 104.5,122.5C105.38,123.38 107.89,127.04 109,128.5C110.11,129.96 112.78,133.31 114,135C115.22,136.69 118.26,141.25 119.5,143C120.74,144.75 123.14,148.07 124.6,150C126.06,151.93 130.32,157.45 132,159.5C133.68,161.55 137.72,165.91 139,167.6C140.28,169.29 142.18,172.44 143,174C143.82,175.56 145.42,179.13 146,181C146.58,182.87 147.65,188.07 148,190C148.35,191.93 148.97,196.06 149,197.5C149.03,198.94 148.65,201.6 148.3,202.3C147.95,203 146.85,203.71 146,203.5C145.15,203.29 142.28,201.26 141,200.5C139.72,199.74 136.87,198.17 135,197C133.13,195.83 127.33,192.02 125,190.5C122.67,188.98 117.33,185.52 115,184C112.67,182.48 106.87,178.72 105,177.5C103.13,176.28 100.17,174.61 99,173.5C97.83,172.39 95.51,169.57 95,168C94.49,166.43 94.45,161.81 94.6,160C94.75,158.19 95.83,154.25 96.3,152.5C96.77,150.75 98.2,146.69 98.6,145C99,143.31 99.44,139.75 99.7,138C99.96,136.25 100.61,131.75 100.8,130C100.99,128.25 101.22,124.05 101.3,123C101.38,121.95 101.13,121.06 101.5,121Z" fill="#b2529f"/>
<path d="M37.5,220.7 39.9,219.3 42.2,217.7 44.7,216.2 47.1,214.6 49.6,213.1 52,211.5 54.5,210 56.9,208.4 59.2,206.7 61.5,205 63.8,203.3 66,201.5 68.2,199.7 70.3,197.8 72.4,195.9 74.4,193.9 76.4,191.9 78.3,189.8 80.1,187.6 81.9,185.4 83.6,183.1 85.3,180.8 87,178.5 88.6,176.1 90.1,173.6 91.6,171.1 93,168.5 94.4,165.9 95.7,163.2 96.9,160.4 98.1,157.6 99.3,154.8 100.4,151.9 101.4,148.9 102.4,145.9 103.3,142.8 104.1,139.6 104.8,136.3 105.5,133 106.1,129.6 106.6,126.2 107.1,122.5 107.5,119 107.8,115.4 108.2,111.7 108.6,108.1 109,104.5 109.4,100.9 109.9,97.4 110.5,94 111.1,90.6 111.7,87.2 112.3,83.8 113,80.5 113.7,77.2 114.4,73.9 115.1,70.6 115.9,67.4 116.7,64.2 117.6,61.1 118.5,58 119.4,54.9 120.4,51.9 121.4,48.9 122.4,45.9 123.5,43 124.7,40.2 125.8,37.3 127.1,34.6 128.4,31.9 129.7,29.2 131.1,26.6 132.5,24 134.1,21.6 135.7,19.2 137.3,16.8 139.1,14.6 140.9,12.4 142.8,10.3 144.9,8.4 147,6.5 149.2,4.9 151.2,3.5M37.5,236 40,234.4 42.3,232.8 44.7,231.2 47.1,229.6 49.4,227.9 51.7,226.2 54.1,224.6 56.4,222.9 58.6,221.1 60.9,219.4 63.1,217.6 65.3,215.9 67.5,214 69.7,212.2 71.8,210.3 73.9,208.4 75.9,206.5 78,204.5 80,202.4 81.9,200.4 83.8,198.3 85.6,196.2 87.5,194 89.3,191.8 91,189.5 92.7,187.2 94.4,184.9 96,182.5 97.6,180.1 99.1,177.6 100.6,175.1 102.1,172.6 103.5,170 104.9,167.4 106.2,164.7 107.5,162 108.8,159.3 110,156.5 111.2,153.7 112.3,150.8 113.4,147.9 114.5,145 115.5,142 116.5,139 117.5,136 118.4,132.9 119.3,129.8 120.2,126.7 121.1,123.6 121.9,120.4 122.8,117.3 123.6,114.1 124.4,110.9 125.3,107.8 126.2,104.7 127.1,101.6 128,98.5 128.9,95.4 129.8,92.3 130.8,89.3 131.8,86.3 132.8,83.3 133.8,80.3 134.9,77.4 135.9,74.4 137.1,71.6 138.2,68.7 139.3,65.8 140.5,63 141.8,60.3 143,57.5 144.3,54.8 145.6,52.1 147,49.5 148.3,46.8 149.8,44.3 151.2,41.7 152.7,39.2 154.3,36.8 155.8,34.3 157.4,31.9 159.1,29.6 160.7,27.3 162.5,25 164.2,22.7 166,20.5 167.8,18.3 169.6,16.1 171.4,13.9 173.3,11.8 175.1,9.6 177,7.5 178.8,5.4 180.4,3.5M37.5,251.2 40.3,249.7 42.7,248.2 45.1,246.6 47.5,245 49.9,243.4 52.2,241.7 54.5,240 56.7,238.2 59,236.5 61.2,234.7 63.4,232.9 65.6,231.1 67.7,229.2 69.9,227.4 72,225.5 74.1,223.6 76.2,221.7 78.2,219.7 80.3,217.8 82.3,215.8 84.2,213.7 86.2,211.7 88.1,209.6 90,207.5 91.9,205.3 93.7,203.2 95.5,201 97.3,198.8 99,196.5 100.7,194.2 102.4,191.9 104.1,189.6 105.7,187.2 107.3,184.8 108.9,182.4 110.4,179.9 111.9,177.4 113.4,174.9 114.8,172.3 116.3,169.8 117.7,167.2 119,164.5 120.4,161.9 121.7,159.2 123,156.5 124.3,153.8 125.5,151 126.7,148.2 127.9,145.4 129.1,142.6 130.3,139.8 131.5,137 132.6,134.1 133.7,131.2 134.9,128.4 136,125.5 137.1,122.6 138.3,119.8 139.4,116.9 140.5,114 141.7,111.2 142.8,108.3 144,105.5 145.1,102.6 146.3,99.8 147.5,97 148.7,94.2 150,91.5 151.2,88.7 152.5,86 153.8,83.3 155.1,80.6 156.4,77.9 157.7,75.2 159.1,72.6 160.5,70 161.9,67.4 163.3,64.8 164.8,62.3 166.3,59.8 167.8,57.3 169.3,54.8 170.9,52.4 172.4,49.9 174,47.5 175.7,45.2 177.3,42.8 179,40.5 180.7,38.2 182.5,36 184.2,33.7 186,31.5 187.9,29.4 189.7,27.2 191.6,25.1 193.5,23 195.4,20.9 197.4,18.9 199.4,16.9 201.5,15 203.5,13 205.7,11.1 207.8,9.3 210,7.5 212.1,5.7 213.9,4.2 214.8,3.5M37.5,268.8 39.9,267.3 42.3,265.8 44.6,264.1 47,262.5 49.3,260.8 51.6,259.1 53.9,257.4 56.1,255.6 58.4,253.9 60.6,252.1 62.8,250.3 65,248.5 67.1,246.6 69.3,244.8 71.4,242.9 73.5,241 75.6,239.1 77.7,237.2 79.7,235.2 81.7,233.2 83.8,231.3 85.7,229.3 87.7,227.2 89.7,225.2 91.6,223.1 93.5,221 95.4,218.9 97.3,216.8 99.2,214.7 101,212.5 102.8,210.3 104.6,208.1 106.4,205.9 108.1,203.6 109.9,201.4 111.6,199.1 113.2,196.7 114.9,194.4 116.5,192 118.2,189.7 119.8,187.3 121.3,184.8 122.9,182.4 124.4,179.9 125.9,177.4 127.4,174.9 128.9,172.4 130.4,169.9 131.8,167.3 133.3,164.7 134.7,162.2 136.1,159.6 137.4,156.9 138.8,154.3 140.2,151.7 141.5,149 142.9,146.4 144.2,143.7 145.5,141 146.9,138.4 148.2,135.7 149.5,133 150.8,130.3 152.2,127.7 153.5,125 154.8,122.3 156.2,119.7 157.5,117 158.8,114.3 160.2,111.7 161.6,109.1 162.9,106.4 164.3,103.8 165.7,101.2 167.1,98.6 168.6,96.1 170,93.5 171.5,91 172.9,88.4 174.4,85.9 175.9,83.4 177.4,80.9 179,78.5 180.5,76 182.1,73.6 183.7,71.2 185.3,68.8 186.9,66.4 188.6,64.1 190.3,61.8 192,59.5 193.7,57.2 195.4,54.9 197.2,52.7 199,50.5 200.8,48.3 202.6,46.1 204.5,44 206.4,41.9 208.3,39.8 210.2,37.7 212.2,35.7 214.2,33.7 216.2,31.7 218.3,29.8 220.3,27.8 222.5,26 224.6,24.1 226.8,22.3 229,20.5 231.2,18.7 233.5,17 235.8,15.3 238.2,13.7 240.6,12.1 242.9,10.4 245.4,8.9 247.8,7.3 250.2,5.8 252.4,4.4 253.9,3.5M37.5,288.8 39.6,287 41.8,285.3 44,283.5 46.3,281.8 48.5,280 50.8,278.3 53,276.5 55.2,274.7 57.5,273 59.7,271.2 61.8,269.3 64,267.5 66.2,265.7 68.3,263.8 70.4,261.9 72.5,260 74.6,258.1 76.7,256.2 78.8,254.3 80.8,252.3 82.9,250.4 84.9,248.4 86.9,246.4 88.9,244.4 90.9,242.4 92.9,240.4 94.8,238.3 96.7,236.2 98.7,234.2 100.6,232.1 102.5,230 104.3,227.8 106.2,225.7 108,223.5 109.9,221.4 111.7,219.2 113.5,217 115.3,214.8 117,212.5 118.8,210.3 120.5,208 122.2,205.7 123.9,203.4 125.6,201.1 127.3,198.8 128.9,196.4 130.6,194.1 132.2,191.7 133.8,189.3 135.4,186.9 137,184.5 138.6,182.1 140.1,179.6 141.7,177.2 143.2,174.7 144.8,172.3 146.3,169.8 147.8,167.3 149.3,164.8 150.8,162.3 152.3,159.8 153.8,157.3 155.3,154.8 156.7,152.2 158.2,149.7 159.7,147.2 161.2,144.7 162.6,142.1 164.1,139.6 165.6,137.1 167.1,134.6 168.5,132 170,129.5 171.5,127 173,124.5 174.5,122 176,119.5 177.6,117.1 179.1,114.6 180.6,112.1 182.2,109.7 183.7,107.2 185.3,104.8 186.9,102.4 188.5,100 190.1,97.6 191.7,95.2 193.4,92.9 195,90.5 196.7,88.2 198.4,85.9 200.1,83.6 201.8,81.3 203.6,79.1 205.3,76.8 207.1,74.6 208.9,72.4 210.7,70.2 212.5,68 214.4,65.9 216.3,63.8 218.2,61.7 220.1,59.6 222.1,57.6 224,55.5 226,53.5 228.1,51.6 230.1,49.6 232.2,47.7 234.3,45.8 236.5,44 238.6,42.1 240.8,40.3 243.1,38.6 245.3,36.8 247.6,35.1 249.9,33.4 252.3,31.8 254.7,30.2 257.1,28.6 259.5,27 262,25.5 264.5,24 267,22.5 269.5,21 271.8,19.7 273.5,18.8M37.5,305.1 40.5,303.9 43.1,302.6 45.6,301.1 48,299.5 50.4,297.9 52.7,296.2 54.9,294.4 57.2,292.7 59.4,290.9 61.6,289.1 63.8,287.3 65.9,285.4 68.1,283.5 70.2,281.7 72.3,279.8 74.4,277.9 76.5,276 78.5,274 80.6,272.1 82.6,270.1 84.7,268.2 86.7,266.2 88.7,264.2 90.7,262.2 92.7,260.2 94.7,258.2 96.6,256.1 98.6,254.1 100.5,252 102.5,250 104.4,247.9 106.3,245.8 108.2,243.7 110.1,241.6 112,239.5 113.8,237.3 115.7,235.2 117.5,233 119.4,230.8 121.2,228.7 123,226.5 124.8,224.3 126.6,222.1 128.3,219.8 130.1,217.6 131.8,215.3 133.6,213.1 135.3,210.8 137,208.5 138.7,206.2 140.4,203.9 142.1,201.6 143.8,199.3 145.5,197 147.1,194.6 148.8,192.3 150.4,189.9 152.1,187.6 153.7,185.2 155.3,182.8 156.9,180.4 158.5,178 160.2,175.7 161.8,173.3 163.4,170.9 165,168.5 166.6,166.1 168.2,163.7 169.7,161.2 171.3,158.8 172.9,156.4 174.5,154 176.1,151.6 177.7,149.2 179.3,146.8 180.9,144.4 182.5,142 184.2,139.7 185.8,137.3 187.4,134.9 189,132.5 190.7,130.2 192.3,127.8 194,125.5 195.7,123.2 197.3,120.8 199,118.5 200.7,116.2 202.4,113.9 204.2,111.7 205.9,109.4 207.7,107.2 209.4,104.9 211.2,102.7 213,100.5 214.8,98.3 216.6,96.1 218.5,94 220.4,91.8 222.2,89.7 224.1,87.6 226.1,85.6 228,83.5 230,81.5 232,79.5 234,77.5 236,75.5 238.1,73.6 240.2,71.7 242.3,69.8 244.5,68 246.7,66.1 248.9,64.4 251.1,62.6 253.4,60.9 255.8,59.3 258.2,57.7 260.6,56.1 263.1,54.6 265.7,53.2 268.3,51.8 270.9,50.6 273.5,49.5M37.5,329.3 39.8,327.2 42,325.5 44.2,323.7 46.4,321.9 48.6,320.1 50.9,318.4 53.1,316.6 55.3,314.8 57.5,313 59.8,311.3 61.9,309.4 64.1,307.6 66.3,305.8 68.4,303.9 70.6,302 72.7,300.2 74.8,298.3 76.8,296.4 78.9,294.4 81,292.5 83,290.5 85.1,288.6 87.1,286.6 89.1,284.6 91.1,282.6 93.1,280.6 95.1,278.6 97.1,276.6 99.1,274.6 101,272.5 103,270.5 104.9,268.4 106.9,266.4 108.8,264.3 110.7,262.2 112.6,260.1 114.5,258 116.4,255.9 118.3,253.8 120.2,251.7 122.1,249.6 123.9,247.4 125.8,245.3 127.6,243.1 129.5,241 131.3,238.8 133.1,236.6 134.9,234.4 136.7,232.2 138.5,230 140.3,227.8 142.1,225.6 143.9,223.4 145.6,221.1 147.4,218.9 149.1,216.6 150.9,214.4 152.6,212.1 154.4,209.9 156.1,207.6 157.8,205.3 159.6,203.1 161.3,200.8 163,198.5 164.7,196.2 166.4,193.9 168.1,191.6 169.8,189.3 171.5,187 173.2,184.7 174.9,182.4 176.6,180.1 178.3,177.8 180,175.5 181.7,173.2 183.4,170.9 185.1,168.6 186.8,166.3 188.5,164 190.2,161.7 191.9,159.4 193.6,157.1 195.3,154.8 197,152.5 198.8,150.3 200.5,148 202.3,145.8 204,143.5 205.8,141.3 207.6,139.1 209.4,136.9 211.1,134.6 213,132.4 214.8,130.3 216.6,128.1 218.4,125.9 220.3,123.8 222.2,121.7 224,119.5 225.9,117.4 227.9,115.4 229.8,113.3 231.7,111.2 233.7,109.2 235.7,107.2 237.7,105.2 239.7,103.2 241.8,101.3 243.8,99.4 245.9,97.5 248.1,95.6 250.2,93.7 252.4,91.9 254.6,90.1 256.9,88.4 259.2,86.7 261.6,85.1 263.9,83.4 266.4,81.9 268.9,80.4 271.3,79.1 273.5,77.9M37.5,350.6 39.6,348.9 41.8,347.3 44.1,345.6 46.4,343.9 48.7,342.2 51,340.5 53.2,338.7 55.5,337 57.7,335.2 59.9,333.4 62,331.5 64.2,329.7 66.3,327.8 68.4,326 70.6,324.1 72.7,322.2 74.8,320.3 76.8,318.4 78.9,316.4 81,314.5 83,312.5 85.1,310.6 87.1,308.6 89.1,306.6 91.2,304.7 93.2,302.7 95.2,300.7 97.2,298.7 99.1,296.6 101.1,294.6 103.1,292.6 105,290.5 107,288.5 108.9,286.4 110.9,284.4 112.8,282.3 114.7,280.2 116.7,278.2 118.6,276.1 120.5,274 122.4,271.9 124.3,269.8 126.2,267.7 128.1,265.6 130,263.4 131.8,261.3 133.7,259.2 135.6,257.1 137.4,254.9 139.3,252.8 141.1,250.6 143,248.4 144.8,246.3 146.6,244.1 148.4,241.9 150.3,239.8 152.1,237.6 153.9,235.4 155.7,233.2 157.5,231 159.3,228.8 161.1,226.6 162.9,224.4 164.7,222.2 166.5,220 168.3,217.8 170.1,215.6 171.8,213.3 173.6,211.1 175.4,208.9 177.2,206.7 179,204.5 180.7,202.2 182.5,200 184.3,197.8 186.1,195.6 187.8,193.3 189.6,191.1 191.4,188.9 193.2,186.7 195,184.5 196.8,182.3 198.6,180.1 200.4,177.9 202.2,175.7 204,173.5 205.8,171.3 207.6,169.1 209.5,167 211.3,164.8 213.1,162.7 215,160.5 216.9,158.4 218.7,156.2 220.6,154.1 222.5,152 224.4,149.9 226.4,147.9 228.3,145.8 230.2,143.7 232.2,141.7 234.2,139.7 236.2,137.7 238.2,135.7 240.2,133.7 242.3,131.8 244.3,129.8 246.4,127.9 248.5,126 250.6,124.1 252.8,122.3 255,120.5 257.1,118.6 259.3,116.9 261.6,115.1 263.8,113.3 266.1,111.6 268.4,109.9 270.6,108.2 272.5,106.8 273.5,106M59.3,357.5 61.3,355.6 63.3,353.8 65.4,351.9 67.6,350 69.7,348.2 71.8,346.3 73.9,344.4 76,342.5 78,340.5 80.1,338.6 82.2,336.7 84.2,334.7 86.2,332.7 88.3,330.8 90.3,328.8 92.3,326.8 94.3,324.8 96.3,322.8 98.3,320.8 100.3,318.8 102.3,316.8 104.2,314.7 106.2,312.7 108.2,310.7 110.1,308.6 112.1,306.6 114,304.5 116,302.5 117.9,300.4 119.8,298.3 121.7,296.2 123.7,294.2 125.6,292.1 127.5,290 129.4,287.9 131.3,285.8 133.2,283.7 135.1,281.6 137,279.5 138.9,277.4 140.8,275.3 142.7,273.2 144.5,271 146.4,268.9 148.3,266.8 150.2,264.7 152,262.5 153.9,260.4 155.7,258.2 157.6,256.1 159.5,254 161.3,251.8 163.2,249.7 165,247.5 166.9,245.4 168.7,243.2 170.6,241.1 172.4,238.9 174.3,236.8 176.1,234.6 177.9,232.4 179.8,230.3 181.6,228.1 183.5,226 185.3,223.8 187.2,221.7 189,219.5 190.9,217.4 192.7,215.2 194.6,213.1 196.4,210.9 198.3,208.8 200.1,206.6 202,204.5 203.9,202.4 205.7,200.2 207.6,198.1 209.5,196 211.4,193.9 213.3,191.8 215.2,189.7 217.1,187.6 219,185.5 221,183.5 222.9,181.4 224.8,179.3 226.8,177.3 228.8,175.3 230.7,173.2 232.7,171.2 234.7,169.2 236.7,167.2 238.8,165.3 240.8,163.3 242.9,161.4 245,159.5 247.1,157.6 249.2,155.7 251.3,153.8 253.5,152 255.7,150.2 257.9,148.4 260.2,146.7 262.5,145 264.8,143.3 267.2,141.7 269.6,140.1 271.9,138.8 273.5,137.9M86.1,357.5 88.1,355.5 90.1,353.6 92.1,351.6 94.1,349.6 96.1,347.6 98.1,345.6 100.1,343.6 102.1,341.6 104.1,339.6 106,337.5 108,335.5 109.9,333.4 111.9,331.4 113.9,329.3 115.8,327.3 117.7,325.2 119.7,323.2 121.6,321.1 123.5,319 125.5,317 127.4,314.9 129.3,312.8 131.2,310.7 133.1,308.7 135.1,306.6 137,304.5 138.9,302.4 140.8,300.3 142.7,298.2 144.6,296.1 146.5,294 148.4,291.9 150.3,289.8 152.2,287.7 154.1,285.6 156,283.5 157.9,281.4 159.8,279.3 161.7,277.2 163.6,275.1 165.5,273 167.4,270.9 169.3,268.8 171.1,266.6 173,264.5 174.9,262.4 176.8,260.3 178.7,258.2 180.6,256.1 182.5,254 184.4,251.9 186.3,249.8 188.2,247.7 190.1,245.6 192,243.5 193.9,241.4 195.8,239.3 197.7,237.2 199.6,235.1 201.5,233 203.5,231 205.4,228.9 207.3,226.8 209.2,224.7 211.2,222.7 213.1,220.6 215.1,218.6 217,216.5 219,214.5 221,212.5 222.9,210.4 224.9,208.4 226.9,206.4 228.9,204.4 230.9,202.4 233,200.5 235,198.5 237.1,196.5 239.1,194.6 241.2,192.7 243.3,190.8 245.3,188.9 247.5,187 249.6,185.1 251.7,183.2 253.9,181.4 256.1,179.6 258.3,177.8 260.5,176 262.7,174.2 264.9,172.4 267.2,170.7 269.5,169 271.6,167.4 273.5,166M111.8,357.5 113.9,355.3 115.8,353.3 117.7,351.2 119.7,349.2 121.6,347.1 123.5,345 125.5,343 127.4,340.9 129.3,338.8 131.2,336.7 133.1,334.7 135.1,332.6 137,330.5 138.9,328.4 140.8,326.3 142.7,324.2 144.6,322.1 146.5,320 148.5,318 150.4,315.9 152.3,313.8 154.2,311.7 156.1,309.6 158,307.5 159.9,305.4 161.9,303.4 163.8,301.3 165.7,299.2 167.6,297.1 169.5,295 171.5,293 173.4,290.9 175.3,288.8 177.2,286.7 179.1,284.7 181.1,282.6 183,280.5 184.9,278.4 186.9,276.4 188.8,274.3 190.7,272.2 192.7,270.2 194.6,268.1 196.6,266.1 198.5,264 200.5,262 202.5,259.9 204.4,257.9 206.4,255.9 208.4,253.9 210.3,251.8 212.3,249.8 214.3,247.8 216.3,245.8 218.3,243.8 220.3,241.8 222.3,239.8 224.3,237.8 226.4,235.9 228.4,233.9 230.5,232 232.5,230 234.6,228.1 236.7,226.2 238.8,224.3 240.9,222.4 243,220.5 245.1,218.6 247.2,216.7 249.4,214.9 251.6,213.1 253.7,211.2 255.9,209.4 258.2,207.7 260.4,205.9 262.6,204.1 264.9,202.4 267.2,200.7 269.5,199 271.7,197.5 273.5,196.2M137.4,357.5 139.2,355.5 141,353.5 142.9,351.4 144.8,349.3 146.7,347.2 148.6,345.1 150.5,343 152.4,340.9 154.3,338.8 156.2,336.7 158.1,334.6 160,332.5 161.9,330.4 163.9,328.4 165.8,326.3 167.7,324.2 169.6,322.1 171.6,320.1 173.5,318 175.5,316 177.4,313.9 179.3,311.8 181.3,309.8 183.2,307.7 185.2,305.7 187.2,303.7 189.1,301.6 191.1,299.6 193.1,297.6 195,295.5 197,293.5 199,291.5 201,289.5 203,287.5 205,285.5 207,283.5 209,281.5 211,279.5 213,277.5 215,275.5 217,273.5 219.1,271.6 221.1,269.6 223.2,267.7 225.2,265.7 227.3,263.8 229.3,261.9 231.4,259.9 233.5,258 235.6,256.1 237.7,254.2 239.9,252.4 242,250.5 244.1,248.6 246.3,246.8 248.5,245 250.7,243.2 252.9,241.4 255.1,239.6 257.3,237.8 259.6,236.1 261.8,234.3 264.1,232.6 266.4,230.9 268.8,229.3 271,227.7 273.5,226M163,357.5 165,355.4 166.9,353.3 168.8,351.3 170.7,349.2 172.6,347.1 174.5,345 176.5,342.9 178.4,340.9 180.3,338.8 182.3,336.8 184.2,334.7 186.2,332.7 188.2,330.7 190.1,328.6 192.1,326.6 194.1,324.6 196.1,322.6 198.1,320.6 200.1,318.6 202.1,316.6 204.1,314.6 206.2,312.6 208.2,310.7 210.2,308.7 212.2,306.7 214.3,304.8 216.3,302.8 218.4,300.9 220.5,299 222.5,297 224.6,295.1 226.7,293.2 228.8,291.3 230.9,289.4 233,287.5 235.1,285.6 237.2,283.7 239.3,281.8 241.5,280 243.6,278.1 245.8,276.3 248,274.5 250.2,272.7 252.4,270.9 254.6,269.1 256.8,267.3 259.1,265.6 261.4,263.9 263.7,262.1 266,260.5 268.3,258.8 270.7,257.2 272.6,256 273.5,255.4M189.8,357.5 191.9,355.3 193.9,353.4 195.8,351.3 197.8,349.3 199.8,347.3 201.8,345.3 203.8,343.4 205.9,341.4 207.9,339.4 210,337.5 212,335.5 214.1,333.6 216.2,331.7 218.3,329.8 220.4,327.9 222.5,326 224.6,324.1 226.7,322.2 228.8,320.3 230.9,318.4 233,316.5 235.2,314.7 237.3,312.8 239.5,311 241.6,309.1 243.8,307.3 246,305.5 248.2,303.7 250.4,301.9 252.6,300.1 254.8,298.3 257,296.5 259.2,294.7 261.5,293 263.7,291.2 265.9,289.4 268.2,287.7 270.4,286 272.4,284.4 273.5,283.5M218.2,357.5 220.4,355.8 222.6,354.1 224.8,352.3 227,350.5 229.2,348.7 231.4,346.9 233.6,345.1 235.8,343.3 238,341.5 240.2,339.6 242.3,337.8 244.6,336.1 246.8,334.3 249,332.5 251.2,330.7 253.5,329 255.7,327.2 258,325.5 260.3,323.8 262.5,322 264.8,320.3 267.2,318.7 269.5,317 271.7,315.4 273.5,314.2M254.2,357.5 256.5,355.8 258.7,354.2 261,352.5 263.3,350.8 265.6,349.1 268,347.5 270.3,345.9 272.3,344.5 273.5,343.7" fill="none" stroke="#111" stroke-width="1.2"/>
<clipPath id="hin"><path d="M13.05,15.83C15.82,16.54 24.44,18.35 29.68,20.07C34.92,21.79 39.88,23.89 44.5,26.15C49.12,28.41 53.43,30.97 57.41,33.64C61.39,36.31 65.05,39.2 68.4,42.15C71.75,45.1 74.77,48.22 77.52,51.34C80.27,54.46 82.69,57.68 84.88,60.88C87.06,64.08 88.95,67.33 90.63,70.53C92.31,73.73 93.71,76.94 94.94,80.09C96.17,83.24 97.16,86.35 98,89.41C98.84,92.47 99.48,95.48 100,98.43C100.52,101.38 100.86,104.27 101.11,107.11C101.36,109.95 101.46,112.72 101.48,115.45C101.5,118.19 101.39,120.87 101.21,123.52C101.03,126.17 100.75,128.77 100.39,131.37C100.03,133.97 99.58,136.53 99.04,139.1C98.5,141.67 97.88,144.21 97.15,146.77C96.42,149.33 95.61,151.89 94.66,154.46C93.71,157.03 92.67,159.6 91.47,162.19C90.27,164.78 88.96,167.39 87.46,169.99C85.96,172.59 84.33,175.2 82.49,177.79C80.65,180.38 78.64,182.98 76.41,185.52C74.17,188.06 71.75,190.6 69.08,193.03C66.41,195.46 63.51,197.87 60.36,200.12C57.21,202.37 53.82,204.56 50.17,206.54C46.52,208.52 42.61,210.41 38.45,212.02C34.29,213.63 27.43,215.51 25.22,216.21 L-20,230 L-20,5 Z"/></clipPath>
<path d="M13.05,15.83C15.82,16.54 24.44,18.35 29.68,20.07C34.92,21.79 39.88,23.89 44.5,26.15C49.12,28.41 53.43,30.97 57.41,33.64C61.39,36.31 65.05,39.2 68.4,42.15C71.75,45.1 74.77,48.22 77.52,51.34C80.27,54.46 82.69,57.68 84.88,60.88C87.06,64.08 88.95,67.33 90.63,70.53C92.31,73.73 93.71,76.94 94.94,80.09C96.17,83.24 97.16,86.35 98,89.41C98.84,92.47 99.48,95.48 100,98.43C100.52,101.38 100.86,104.27 101.11,107.11C101.36,109.95 101.46,112.72 101.48,115.45C101.5,118.19 101.39,120.87 101.21,123.52C101.03,126.17 100.75,128.77 100.39,131.37C100.03,133.97 99.58,136.53 99.04,139.1C98.5,141.67 97.88,144.21 97.15,146.77C96.42,149.33 95.61,151.89 94.66,154.46C93.71,157.03 92.67,159.6 91.47,162.19C90.27,164.78 88.96,167.39 87.46,169.99C85.96,172.59 84.33,175.2 82.49,177.79C80.65,180.38 78.64,182.98 76.41,185.52C74.17,188.06 71.75,190.6 69.08,193.03C66.41,195.46 63.51,197.87 60.36,200.12C57.21,202.37 53.82,204.56 50.17,206.54C46.52,208.52 42.61,210.41 38.45,212.02C34.29,213.63 27.43,215.51 25.22,216.21" fill="none" stroke="#000" stroke-width="4.2"/>
<circle cx="43" cy="121" r="6" fill="url(#sung)"/>
<circle cx="38.5" cy="120.5" r="4.3" fill="#fff"/>
<circle cx="38" cy="125.5" r="2.2" fill="#fff"/>
<line x1="39" y1="124" x2="109.6" y2="153.6" stroke="#c8c8c8" stroke-width="1.3"/>
<circle cx="109.6" cy="153.6" r="2.2" fill="#4fc3ea"/>
<line x1="39" y1="124" x2="164.7" y2="224.5" stroke="#c8c8c8" stroke-width="1.3"/>
<circle cx="164.7" cy="224.5" r="2.2" fill="#4fc3ea"/>
<line x1="39" y1="124" x2="211.6" y2="307.8" stroke="#c8c8c8" stroke-width="1.3"/>
<circle cx="211.6" cy="307.8" r="2.2" fill="#4fc3ea"/>
<path d="M84,142.5 l4,-3 M84,142.5 l4,3" stroke="#c8c8c8" stroke-width="1.1" fill="none" transform="rotate(22.8 84 142.5)"/>
<path d="M80,153 l4,-3 M80,153 l4,3" stroke="#c8c8c8" stroke-width="1.1" fill="none" transform="rotate(38.5 80 153)"/>
<path d="M76,160 l4,-3 M76,160 l4,3" stroke="#c8c8c8" stroke-width="1.1" fill="none" transform="rotate(45.5 76 160)"/>
</g>
<line x1="102.8" y1="74.9" x2="278" y2="61.1" stroke="#fff" stroke-width="1.4"/>
<line x1="102.8" y1="74.9" x2="278" y2="61.1" stroke="#111" stroke-width="1.25" stroke-dasharray="4 2.6"/>
<line x1="263.5" y1="100.1" x2="280.3" y2="176.5" stroke="#fff" stroke-width="1.4"/>
<line x1="263.5" y1="100.1" x2="280.3" y2="176.5" stroke="#111" stroke-width="1.25" stroke-dasharray="4 2.6"/>
<line x1="96" y1="173" x2="278.5" y2="297.5" stroke="#fff" stroke-width="1.4"/>
<line x1="96" y1="173" x2="278.5" y2="297.5" stroke="#111" stroke-width="1.25" stroke-dasharray="4 2.6"/>
<path d="M93.2,82.4 L102.8,74.9 L110.72,68.92" stroke="#fff" stroke-width="4.4" stroke-linecap="round" stroke-linejoin="round" fill="none"/>
<path d="M117.5,63.8 L113.01,71.95 L108.43,65.89 Z" fill="#fff" stroke="#fff" stroke-width="1.4" stroke-linejoin="round"/>
<path d="M93.2,82.4 L102.8,74.9 L111.51,68.32" stroke="#000" stroke-width="2.6" stroke-linecap="round" fill="none"/>
<path d="M117.5,63.8 L113.01,71.95 L108.43,65.89 Z" fill="#000"/>
<circle cx="102.8" cy="74.9" r="2.9" fill="#fff" stroke="#000" stroke-width="0.9"/>
<path d="M89.6,163.6 L96,173 L100.23,179.63" stroke="#fff" stroke-width="4.4" stroke-linecap="round" stroke-linejoin="round" fill="none"/>
<path d="M104.8,186.8 L97.03,181.68 L103.43,177.59 Z" fill="#fff" stroke="#fff" stroke-width="1.4" stroke-linejoin="round"/>
<path d="M89.6,163.6 L96,173 L100.77,180.48" stroke="#000" stroke-width="2.6" stroke-linecap="round" fill="none"/>
<path d="M104.8,186.8 L97.03,181.68 L103.43,177.59 Z" fill="#000"/>
<circle cx="96" cy="173" r="2.9" fill="#fff" stroke="#000" stroke-width="0.9"/>
<text x="119.6" y="72.3" font-family="'Liberation Sans', sans-serif" font-size="9.8" font-weight="bold" text-anchor="start" fill="#000" stroke="#fff" stroke-width="1.6" stroke-linejoin="round" paint-order="stroke" >V1</text>
<text x="126.5" y="79.8" font-family="'Liberation Sans', sans-serif" font-size="6" font-weight="bold" text-anchor="middle" fill="#000" stroke="#fff" stroke-width="1.6" stroke-linejoin="round" paint-order="stroke" >~158 AU</text>
<text x="126.5" y="85.9" font-family="'Liberation Sans', sans-serif" font-size="6" font-weight="bold" text-anchor="middle" fill="#000" stroke="#fff" stroke-width="1.6" stroke-linejoin="round" paint-order="stroke" >from Sun</text>
<text x="94.4" y="194.4" font-family="'Liberation Sans', sans-serif" font-size="9.8" font-weight="bold" text-anchor="middle" fill="#000" stroke="#fff" stroke-width="1.6" stroke-linejoin="round" paint-order="stroke" >V2</text>
<text x="95.2" y="200.5" font-family="'Liberation Sans', sans-serif" font-size="6" font-weight="bold" text-anchor="middle" fill="#000" stroke="#fff" stroke-width="1.6" stroke-linejoin="round" paint-order="stroke" >~132 AU</text>
<text x="95.2" y="206.6" font-family="'Liberation Sans', sans-serif" font-size="6" font-weight="bold" text-anchor="middle" fill="#000" stroke="#fff" stroke-width="1.6" stroke-linejoin="round" paint-order="stroke" >from Sun</text>
<path d="M273.6,98.6 L263.5,100.1 L252,101.4" stroke="#fff" stroke-opacity="0.85" stroke-width="4" fill="none"/>
<line x1="273.6" y1="98.6" x2="263.5" y2="100.1" stroke="#000" stroke-width="2.3"/>
<line x1="263.5" y1="100.1" x2="250" y2="101.6" stroke="#000" stroke-width="2.3" marker-end="url(#ah)"/>
<circle cx="263.6" cy="100" r="2.5" fill="#fff" stroke="#000" stroke-width="0.9"/>
<line x1="231.4" y1="108.9" x2="234.4" y2="108.9" stroke="#333" stroke-width="1.3"/>
<text x="235.6" y="111.4" font-family="'Liberation Sans', sans-serif" font-size="8.6" font-weight="bold" font-style="italic" fill="#111">u</text>
<text x="241" y="111.5" font-family="'Liberation Sans', sans-serif" font-size="5.4" fill="#555">LISM</text>
<text x="230.6" y="118.3" font-family="'Liberation Sans', sans-serif" font-size="6.6" fill="#555">@1000 AU</text>
<text x="82.5" y="54.5" font-family="'Liberation Sans', sans-serif" font-size="10.5" font-weight="bold" fill="#222">HP</text>
<text transform="translate(225.5,43.8) rotate(-36)" font-family="'Liberation Sans', sans-serif" font-size="11.5" fill="#1e1e1e">ISMF</text>
<text transform="translate(150,152) rotate(-58.5)" font-family="'Liberation Sans', sans-serif" font-size="11" fill="#1a1a1a">0.71 keV</text>
<line x1="137" y1="170" x2="144" y2="158" stroke="#1a1a1a" stroke-width="1"/>
<text transform="translate(169,176) rotate(-57)" font-family="'Liberation Sans', sans-serif" font-size="11" fill="#1a1a1a">1.11 keV</text>
<line x1="156" y1="194" x2="163" y2="182" stroke="#1a1a1a" stroke-width="1"/>
<text transform="translate(193,203) rotate(-50)" font-family="'Liberation Sans', sans-serif" font-size="11" fill="#1a1a1a">1.74 keV</text>
<line x1="181" y1="219" x2="188" y2="209" stroke="#1a1a1a" stroke-width="1"/>
<text transform="translate(222,257) rotate(-35)" font-family="'Liberation Sans', sans-serif" font-size="11" fill="#1a1a1a">2.73 keV</text>
<line x1="206" y1="271" x2="215" y2="264" stroke="#1a1a1a" stroke-width="1"/>
<text transform="translate(234,303) rotate(-35)" font-family="'Liberation Sans', sans-serif" font-size="11" fill="#1a1a1a">4.29 keV</text>
<line x1="219" y1="316" x2="228" y2="310" stroke="#1a1a1a" stroke-width="1"/>
<rect x="37.5" y="3.5" width="236.1" height="354.9" fill="none" stroke="#777" stroke-width="0.8"/>
<rect x="42.5" y="317.6" width="143.3" height="35.6" fill="#fff" stroke="#888" stroke-width="0.6"/>
<text x="115.5" y="328.2" font-family="'Liberation Sans', sans-serif" font-size="11.6" text-anchor="middle" fill="#222">|<tspan font-weight="bold">B</tspan>| (nT)</text>
<text x="48.3" y="339.8" font-family="'Liberation Sans', sans-serif" font-size="10" text-anchor="middle" fill="#222">0</text>
<text x="66.9" y="339.8" font-family="'Liberation Sans', sans-serif" font-size="10" text-anchor="middle" fill="#222">0.1</text>
<text x="85.5" y="339.8" font-family="'Liberation Sans', sans-serif" font-size="10" text-anchor="middle" fill="#222">0.2</text>
<text x="104.1" y="339.8" font-family="'Liberation Sans', sans-serif" font-size="10" text-anchor="middle" fill="#222">0.3</text>
<text x="122.7" y="339.8" font-family="'Liberation Sans', sans-serif" font-size="10" text-anchor="middle" fill="#222">0.4</text>
<text x="141.3" y="339.8" font-family="'Liberation Sans', sans-serif" font-size="10" text-anchor="middle" fill="#222">0.5</text>
<text x="159.9" y="339.8" font-family="'Liberation Sans', sans-serif" font-size="10" text-anchor="middle" fill="#222">0.6</text>
<text x="178.5" y="339.8" font-family="'Liberation Sans', sans-serif" font-size="10" text-anchor="middle" fill="#222">0.7</text>
<rect x="47.9" y="341" width="131.6" height="5.2" fill="url(#cbar)"/>
<text x="120" y="351.3" font-family="'Liberation Sans', sans-serif" font-size="5.6" text-anchor="middle" fill="#444"><tspan font-weight="bold" fill="#111">ι</tspan><tspan font-size="3.8">|B|</tspan> @ 1000 au</text>
<text x="34" y="12.6" font-family="'Liberation Sans', sans-serif" font-size="17" text-anchor="end" fill="#111">200</text>
<text x="34" y="69.5" font-family="'Liberation Sans', sans-serif" font-size="17" text-anchor="end" fill="#111">100</text>
<text x="34" y="128.2" font-family="'Liberation Sans', sans-serif" font-size="17" text-anchor="end" fill="#111">0</text>
<text x="34" y="189" font-family="'Liberation Sans', sans-serif" font-size="17" text-anchor="end" fill="#111">-100</text>
<text x="34" y="247" font-family="'Liberation Sans', sans-serif" font-size="17" text-anchor="end" fill="#111">-200</text>
<text x="34" y="306" font-family="'Liberation Sans', sans-serif" font-size="17" text-anchor="end" fill="#111">-300</text>
<text x="34" y="363" font-family="'Liberation Sans', sans-serif" font-size="17" text-anchor="end" fill="#111">-400</text>
<text x="40.5" y="373" font-family="'Liberation Sans', sans-serif" font-size="17" text-anchor="middle" fill="#111">0</text>
<text x="97" y="373" font-family="'Liberation Sans', sans-serif" font-size="17" text-anchor="middle" fill="#111">100</text>
<text x="154.5" y="373" font-family="'Liberation Sans', sans-serif" font-size="17" text-anchor="middle" fill="#111">200</text>
<text x="216.9" y="373" font-family="'Liberation Sans', sans-serif" font-size="17" text-anchor="middle" fill="#111">300</text>
<text x="234.5" y="373" font-family="'Liberation Sans', sans-serif" font-size="17" fill="#111">au</text>
<defs><linearGradient id="bandg" x1="0" x2="1" y1="0" y2="0"><stop offset="0" stop-color="#8c8c8c"/><stop offset="0.3" stop-color="#a8a8a8"/><stop offset="0.5" stop-color="#c2c2c2"/><stop offset="1" stop-color="#c8c8c8"/></linearGradient></defs>
<rect x="317.0" y="5.5" width="13.3" height="110.6" fill="url(#bandg)"/>
<rect x="349.1" y="5.5" width="2.8" height="110.6" fill="#f8cf0a"/>
<path d="M317,5.5v5M317,116.1v-5M322.92,5.5v5M322.92,116.1v-5M328.84,5.5v5M328.84,116.1v-5M334.76,5.5v5M334.76,116.1v-5M340.68,5.5v5M340.68,116.1v-5M346.6,5.5v5M346.6,116.1v-5M352.52,5.5v5M352.52,116.1v-5M358.44,5.5v5M358.44,116.1v-5M364.36,5.5v5M364.36,116.1v-5M370.28,5.5v5M370.28,116.1v-5M376.2,5.5v10M376.2,116.1v-10M382.12,5.5v5M382.12,116.1v-5M388.04,5.5v5M388.04,116.1v-5M393.96,5.5v5M393.96,116.1v-5M399.88,5.5v5M399.88,116.1v-5M405.8,5.5v5M405.8,116.1v-5M411.72,5.5v5M411.72,116.1v-5M417.64,5.5v5M417.64,116.1v-5M423.56,5.5v5M423.56,116.1v-5M429.48,5.5v5M429.48,116.1v-5M435.4,5.5v10M435.4,116.1v-10M441.32,5.5v5M441.32,116.1v-5M447.24,5.5v5M447.24,116.1v-5M453.16,5.5v5M453.16,116.1v-5M459.08,5.5v5M459.08,116.1v-5M465,5.5v5M465,116.1v-5M470.92,5.5v5M470.92,116.1v-5M476.84,5.5v5M476.84,116.1v-5M482.76,5.5v5M482.76,116.1v-5M488.68,5.5v5M488.68,116.1v-5M494.6,5.5v10M494.6,116.1v-10M500.52,5.5v5M500.52,116.1v-5M506.44,5.5v5M506.44,116.1v-5M512.36,5.5v5M512.36,116.1v-5M518.28,5.5v5M518.28,116.1v-5M524.2,5.5v5M524.2,116.1v-5M530.12,5.5v5M530.12,116.1v-5M536.04,5.5v5M536.04,116.1v-5M541.96,5.5v5M541.96,116.1v-5M547.88,5.5v5M547.88,116.1v-5M553.8,5.5v10M553.8,116.1v-10M559.72,5.5v5M559.72,116.1v-5M565.64,5.5v5M565.64,116.1v-5M571.56,5.5v5M571.56,116.1v-5M577.48,5.5v5M577.48,116.1v-5M583.4,5.5v5M583.4,116.1v-5M589.32,5.5v5M589.32,116.1v-5M595.24,5.5v5M595.24,116.1v-5M601.16,5.5v5M601.16,116.1v-5M612.08,5.5v5M612.08,116.1v-5M618,5.5v10M618,116.1v-10M623.92,5.5v5M623.92,116.1v-5M629.84,5.5v5M629.84,116.1v-5M635.76,5.5v5M635.76,116.1v-5M641.68,5.5v5M641.68,116.1v-5M647.6,5.5v5M647.6,116.1v-5M653.52,5.5v5M653.52,116.1v-5M659.44,5.5v5M659.44,116.1v-5M665.36,5.5v5M665.36,116.1v-5M671.28,5.5v5M671.28,116.1v-5M677.2,5.5v10M677.2,116.1v-10" stroke="#555" stroke-width="0.9" fill="none"/>
<path d="M318.6,100.2h3.4M318.6,84.5h3.4M318.6,68.8h3.4M318.6,53.1h3.4M318.6,37.4h3.4M318.6,21.7h3.4" stroke="#444" stroke-width="0.9" fill="none"/>
<path d="M677,114.44h-8M677,111.09h-4M677,107.74h-4M677,104.4h-4M677,101.05h-4M677,97.7h-8M677,94.35h-4M677,91h-4M677,87.66h-4M677,84.31h-4M677,80.96h-8M677,77.61h-4M677,74.26h-4M677,70.92h-4M677,67.57h-4M677,64.22h-8M677,60.87h-4M677,57.52h-4M677,54.18h-4M677,50.83h-4M677,47.48h-8M677,44.13h-4M677,40.78h-4M677,37.44h-4M677,34.09h-4M677,30.74h-8M677,27.39h-4M677,24.04h-4M677,20.7h-4M677,17.35h-4M677,14h-8" stroke="#f2123e" stroke-opacity="0.55" stroke-width="1" fill="none"/>
<text x="305.8" y="104.8" font-family="'Liberation Serif', serif" font-size="13.8" text-anchor="middle" fill="#222">0°</text>
<text x="305.8" y="89.1" font-family="'Liberation Serif', serif" font-size="13.8" text-anchor="middle" fill="#222">10°</text>
<text x="305.8" y="73.4" font-family="'Liberation Serif', serif" font-size="13.8" text-anchor="middle" fill="#222">20°</text>
<text x="305.8" y="57.7" font-family="'Liberation Serif', serif" font-size="13.8" text-anchor="middle" fill="#222">30°</text>
<text x="305.8" y="42" font-family="'Liberation Serif', serif" font-size="13.8" text-anchor="middle" fill="#222">40°</text>
<text x="305.8" y="26.3" font-family="'Liberation Serif', serif" font-size="13.8" text-anchor="middle" fill="#222">50°</text>
<text x="681.8" y="120.04" font-family="'Liberation Sans', sans-serif" font-size="16.8" fill="#f2123e">0.8</text>
<text x="681.8" y="103.3" font-family="'Liberation Sans', sans-serif" font-size="16.8" fill="#f2123e">1.0</text>
<text x="681.8" y="86.56" font-family="'Liberation Sans', sans-serif" font-size="16.8" fill="#f2123e">1.2</text>
<text x="681.8" y="69.82" font-family="'Liberation Sans', sans-serif" font-size="16.8" fill="#f2123e">1.4</text>
<text x="681.8" y="53.08" font-family="'Liberation Sans', sans-serif" font-size="16.8" fill="#f2123e">1.6</text>
<text x="681.8" y="36.34" font-family="'Liberation Sans', sans-serif" font-size="16.8" fill="#f2123e">1.8</text>
<text x="681.8" y="19.6" font-family="'Liberation Sans', sans-serif" font-size="16.8" fill="#f2123e">2.0</text>
<line x1="372.3" y1="100.2" x2="600" y2="100.2" stroke="#999" stroke-width="0.8" stroke-dasharray="5 2 1.2 2"/>
<line x1="612" y1="100.2" x2="677" y2="100.2" stroke="#999" stroke-width="0.8" stroke-dasharray="5 2 1.2 2"/>
<rect x="317.0" y="5.5" width="360.0" height="110.6" fill="none" stroke="#444" stroke-width="1"/>
<line x1="317.0" y1="5.5" x2="317.0" y2="116.1" stroke="#555" stroke-width="1.6"/>
<line x1="677.0" y1="5.5" x2="677.0" y2="116.1" stroke="#f2123e" stroke-opacity="0.6" stroke-width="1.6"/>
<rect x="317.0" y="124.8" width="7.8" height="110.6" fill="url(#bandg)"/>
<path d="M317,124.8v5M317,235.4v-5M322.92,124.8v5M322.92,235.4v-5M328.84,124.8v5M328.84,235.4v-5M334.76,124.8v5M334.76,235.4v-5M340.68,124.8v5M340.68,235.4v-5M346.6,124.8v5M346.6,235.4v-5M352.52,124.8v5M352.52,235.4v-5M358.44,124.8v5M358.44,235.4v-5M364.36,124.8v5M364.36,235.4v-5M370.28,124.8v5M370.28,235.4v-5M376.2,124.8v10M376.2,235.4v-10M382.12,124.8v5M382.12,235.4v-5M388.04,124.8v5M388.04,235.4v-5M393.96,124.8v5M393.96,235.4v-5M399.88,124.8v5M399.88,235.4v-5M405.8,124.8v5M405.8,235.4v-5M411.72,124.8v5M411.72,235.4v-5M417.64,124.8v5M417.64,235.4v-5M423.56,124.8v5M423.56,235.4v-5M429.48,124.8v5M429.48,235.4v-5M435.4,124.8v10M435.4,235.4v-10M441.32,124.8v5M441.32,235.4v-5M447.24,124.8v5M447.24,235.4v-5M453.16,124.8v5M453.16,235.4v-5M459.08,124.8v5M459.08,235.4v-5M465,124.8v5M465,235.4v-5M470.92,124.8v5M470.92,235.4v-5M476.84,124.8v5M476.84,235.4v-5M482.76,124.8v5M482.76,235.4v-5M488.68,124.8v5M488.68,235.4v-5M494.6,124.8v10M494.6,235.4v-10M500.52,124.8v5M500.52,235.4v-5M506.44,124.8v5M506.44,235.4v-5M512.36,124.8v5M512.36,235.4v-5M518.28,124.8v5M518.28,235.4v-5M524.2,124.8v5M524.2,235.4v-5M530.12,124.8v5M530.12,235.4v-5M536.04,124.8v5M536.04,235.4v-5M541.96,124.8v5M541.96,235.4v-5M547.88,124.8v5M547.88,235.4v-5M553.8,124.8v10M553.8,235.4v-10M559.72,124.8v5M559.72,235.4v-5M565.64,124.8v5M565.64,235.4v-5M571.56,124.8v5M571.56,235.4v-5M577.48,124.8v5M577.48,235.4v-5M583.4,124.8v5M583.4,235.4v-5M589.32,124.8v5M589.32,235.4v-5M595.24,124.8v5M595.24,235.4v-5M601.16,124.8v5M601.16,235.4v-5M612.08,124.8v5M612.08,235.4v-5M618,124.8v10M618,235.4v-10M623.92,124.8v5M623.92,235.4v-5M629.84,124.8v5M629.84,235.4v-5M635.76,124.8v5M635.76,235.4v-5M641.68,124.8v5M641.68,235.4v-5M647.6,124.8v5M647.6,235.4v-5M653.52,124.8v5M653.52,235.4v-5M659.44,124.8v5M659.44,235.4v-5M665.36,124.8v5M665.36,235.4v-5M671.28,124.8v5M671.28,235.4v-5M677.2,124.8v10M677.2,235.4v-10" stroke="#555" stroke-width="0.9" fill="none"/>
<path d="M318.6,219.5h3.4M318.6,203.8h3.4M318.6,188.1h3.4M318.6,172.4h3.4M318.6,156.7h3.4M318.6,141h3.4" stroke="#444" stroke-width="0.9" fill="none"/>
<path d="M677,233.74h-8M677,230.39h-4M677,227.04h-4M677,223.7h-4M677,220.35h-4M677,217h-8M677,213.65h-4M677,210.3h-4M677,206.96h-4M677,203.61h-4M677,200.26h-8M677,196.91h-4M677,193.56h-4M677,190.22h-4M677,186.87h-4M677,183.52h-8M677,180.17h-4M677,176.82h-4M677,173.48h-4M677,170.13h-4M677,166.78h-8M677,163.43h-4M677,160.08h-4M677,156.74h-4M677,153.39h-4M677,150.04h-8M677,146.69h-4M677,143.34h-4M677,140h-4M677,136.65h-4M677,133.3h-8" stroke="#f2123e" stroke-opacity="0.55" stroke-width="1" fill="none"/>
<text x="305.8" y="224.1" font-family="'Liberation Serif', serif" font-size="13.8" text-anchor="middle" fill="#222">0°</text>
<text x="305.8" y="208.4" font-family="'Liberation Serif', serif" font-size="13.8" text-anchor="middle" fill="#222">10°</text>
<text x="305.8" y="192.7" font-family="'Liberation Serif', serif" font-size="13.8" text-anchor="middle" fill="#222">20°</text>
<text x="305.8" y="177" font-family="'Liberation Serif', serif" font-size="13.8" text-anchor="middle" fill="#222">30°</text>
<text x="305.8" y="161.3" font-family="'Liberation Serif', serif" font-size="13.8" text-anchor="middle" fill="#222">40°</text>
<text x="305.8" y="145.6" font-family="'Liberation Serif', serif" font-size="13.8" text-anchor="middle" fill="#222">50°</text>
<text x="681.8" y="239.34" font-family="'Liberation Sans', sans-serif" font-size="16.8" fill="#f2123e">0.8</text>
<text x="681.8" y="222.6" font-family="'Liberation Sans', sans-serif" font-size="16.8" fill="#f2123e">1.0</text>
<text x="681.8" y="205.86" font-family="'Liberation Sans', sans-serif" font-size="16.8" fill="#f2123e">1.2</text>
<text x="681.8" y="189.12" font-family="'Liberation Sans', sans-serif" font-size="16.8" fill="#f2123e">1.4</text>
<text x="681.8" y="172.38" font-family="'Liberation Sans', sans-serif" font-size="16.8" fill="#f2123e">1.6</text>
<text x="681.8" y="155.64" font-family="'Liberation Sans', sans-serif" font-size="16.8" fill="#f2123e">1.8</text>
<text x="681.8" y="138.9" font-family="'Liberation Sans', sans-serif" font-size="16.8" fill="#f2123e">2.0</text>
<line x1="325" y1="219.5" x2="600" y2="219.5" stroke="#999" stroke-width="0.8" stroke-dasharray="5 2 1.2 2"/>
<line x1="612" y1="219.5" x2="677" y2="219.5" stroke="#999" stroke-width="0.8" stroke-dasharray="5 2 1.2 2"/>
<rect x="317.0" y="124.8" width="360.0" height="110.6" fill="none" stroke="#444" stroke-width="1"/>
<line x1="317.0" y1="124.8" x2="317.0" y2="235.39999999999998" stroke="#555" stroke-width="1.6"/>
<line x1="677.0" y1="124.8" x2="677.0" y2="235.39999999999998" stroke="#f2123e" stroke-opacity="0.6" stroke-width="1.6"/>
<rect x="317.0" y="244.1" width="11.4" height="110.6" fill="url(#bandg)"/>
<rect x="333.7" y="244.1" width="2.8" height="110.6" fill="#f8cf0a"/>
<path d="M317,244.1v5M317,354.7v-5M322.92,244.1v5M322.92,354.7v-5M328.84,244.1v5M328.84,354.7v-5M334.76,244.1v5M334.76,354.7v-5M340.68,244.1v5M340.68,354.7v-5M346.6,244.1v5M346.6,354.7v-5M352.52,244.1v5M352.52,354.7v-5M358.44,244.1v5M358.44,354.7v-5M364.36,244.1v5M364.36,354.7v-5M370.28,244.1v5M370.28,354.7v-5M376.2,244.1v10M376.2,354.7v-10M382.12,244.1v5M382.12,354.7v-5M388.04,244.1v5M388.04,354.7v-5M393.96,244.1v5M393.96,354.7v-5M399.88,244.1v5M399.88,354.7v-5M405.8,244.1v5M405.8,354.7v-5M411.72,244.1v5M411.72,354.7v-5M417.64,244.1v5M417.64,354.7v-5M423.56,244.1v5M423.56,354.7v-5M429.48,244.1v5M429.48,354.7v-5M435.4,244.1v10M435.4,354.7v-10M441.32,244.1v5M441.32,354.7v-5M447.24,244.1v5M447.24,354.7v-5M453.16,244.1v5M453.16,354.7v-5M459.08,244.1v5M459.08,354.7v-5M465,244.1v5M465,354.7v-5M470.92,244.1v5M470.92,354.7v-5M476.84,244.1v5M476.84,354.7v-5M482.76,244.1v5M482.76,354.7v-5M488.68,244.1v5M488.68,354.7v-5M494.6,244.1v10M494.6,354.7v-10M500.52,244.1v5M500.52,354.7v-5M506.44,244.1v5M506.44,354.7v-5M512.36,244.1v5M512.36,354.7v-5M518.28,244.1v5M518.28,354.7v-5M524.2,244.1v5M524.2,354.7v-5M530.12,244.1v5M530.12,354.7v-5M536.04,244.1v5M536.04,354.7v-5M541.96,244.1v5M541.96,354.7v-5M547.88,244.1v5M547.88,354.7v-5M553.8,244.1v10M553.8,354.7v-10M559.72,244.1v5M559.72,354.7v-5M565.64,244.1v5M565.64,354.7v-5M571.56,244.1v5M571.56,354.7v-5M577.48,244.1v5M577.48,354.7v-5M583.4,244.1v5M583.4,354.7v-5M589.32,244.1v5M589.32,354.7v-5M595.24,244.1v5M595.24,354.7v-5M601.16,244.1v5M601.16,354.7v-5M612.08,244.1v5M612.08,354.7v-5M618,244.1v10M618,354.7v-10M623.92,244.1v5M623.92,354.7v-5M629.84,244.1v5M629.84,354.7v-5M635.76,244.1v5M635.76,354.7v-5M641.68,244.1v5M641.68,354.7v-5M647.6,244.1v5M647.6,354.7v-5M653.52,244.1v5M653.52,354.7v-5M659.44,244.1v5M659.44,354.7v-5M665.36,244.1v5M665.36,354.7v-5M671.28,244.1v5M671.28,354.7v-5M677.2,244.1v10M677.2,354.7v-10" stroke="#555" stroke-width="0.9" fill="none"/>
<path d="M318.6,338.8h3.4M318.6,323.1h3.4M318.6,307.4h3.4M318.6,291.7h3.4M318.6,276h3.4M318.6,260.3h3.4" stroke="#444" stroke-width="0.9" fill="none"/>
<path d="M677,353.04h-8M677,349.69h-4M677,346.34h-4M677,343h-4M677,339.65h-4M677,336.3h-8M677,332.95h-4M677,329.6h-4M677,326.26h-4M677,322.91h-4M677,319.56h-8M677,316.21h-4M677,312.86h-4M677,309.52h-4M677,306.17h-4M677,302.82h-8M677,299.47h-4M677,296.12h-4M677,292.78h-4M677,289.43h-4M677,286.08h-8M677,282.73h-4M677,279.38h-4M677,276.04h-4M677,272.69h-4M677,269.34h-8M677,265.99h-4M677,262.64h-4M677,259.3h-4M677,255.95h-4M677,252.6h-8" stroke="#f2123e" stroke-opacity="0.55" stroke-width="1" fill="none"/>
<text x="305.8" y="343.4" font-family="'Liberation Serif', serif" font-size="13.8" text-anchor="middle" fill="#222">0°</text>
<text x="305.8" y="327.7" font-family="'Liberation Serif', serif" font-size="13.8" text-anchor="middle" fill="#222">10°</text>
<text x="305.8" y="312" font-family="'Liberation Serif', serif" font-size="13.8" text-anchor="middle" fill="#222">20°</text>
<text x="305.8" y="296.3" font-family="'Liberation Serif', serif" font-size="13.8" text-anchor="middle" fill="#222">30°</text>
<text x="305.8" y="280.6" font-family="'Liberation Serif', serif" font-size="13.8" text-anchor="middle" fill="#222">40°</text>
<text x="305.8" y="264.9" font-family="'Liberation Serif', serif" font-size="13.8" text-anchor="middle" fill="#222">50°</text>
<text x="681.8" y="358.64" font-family="'Liberation Sans', sans-serif" font-size="16.8" fill="#f2123e">0.8</text>
<text x="681.8" y="341.9" font-family="'Liberation Sans', sans-serif" font-size="16.8" fill="#f2123e">1.0</text>
<text x="681.8" y="325.16" font-family="'Liberation Sans', sans-serif" font-size="16.8" fill="#f2123e">1.2</text>
<text x="681.8" y="308.42" font-family="'Liberation Sans', sans-serif" font-size="16.8" fill="#f2123e">1.4</text>
<text x="681.8" y="291.68" font-family="'Liberation Sans', sans-serif" font-size="16.8" fill="#f2123e">1.6</text>
<text x="681.8" y="274.94" font-family="'Liberation Sans', sans-serif" font-size="16.8" fill="#f2123e">1.8</text>
<text x="681.8" y="258.2" font-family="'Liberation Sans', sans-serif" font-size="16.8" fill="#f2123e">2.0</text>
<line x1="330" y1="338.8" x2="600" y2="338.8" stroke="#999" stroke-width="0.8" stroke-dasharray="5 2 1.2 2"/>
<line x1="612" y1="338.8" x2="677" y2="338.8" stroke="#999" stroke-width="0.8" stroke-dasharray="5 2 1.2 2"/>
<rect x="317.0" y="244.1" width="360.0" height="110.6" fill="none" stroke="#444" stroke-width="1"/>
<line x1="317.0" y1="244.1" x2="317.0" y2="354.7" stroke="#555" stroke-width="1.6"/>
<line x1="677.0" y1="244.1" x2="677.0" y2="354.7" stroke="#f2123e" stroke-opacity="0.6" stroke-width="1.6"/>
<path d="M330,19.6C330.3,20.83 331.18,24.67 331.8,27C332.42,29.33 332.75,30.63 333.7,33.6C334.65,36.57 336.25,41.48 337.5,44.8C338.75,48.12 339.95,51.08 341.2,53.5C342.45,55.92 343.48,57.22 345,59.3C346.52,61.38 348.52,64.13 350.3,66C352.08,67.87 353.92,69.32 355.7,70.5C357.48,71.68 359.23,72.3 361,73.1C362.77,73.9 363.63,74.5 366.3,75.3C368.97,76.1 373.43,77.1 377,77.9C380.57,78.7 384.13,79.47 387.7,80.1C391.27,80.73 395.52,81.32 398.4,81.7C401.28,82.08 402.07,82.18 405,82.4C407.93,82.62 411.5,82.6 416,83C420.5,83.4 427.83,84.25 432,84.8C436.17,85.35 438.33,85.72 441,86.3C443.67,86.88 445.72,87.67 448,88.3C450.28,88.93 452.82,89.55 454.7,90.1C456.58,90.65 457.75,91.05 459.3,91.6C460.85,92.15 462.43,92.77 464,93.4C465.57,94.03 467.15,94.67 468.7,95.4C470.25,96.13 471.75,97.2 473.3,97.8C474.85,98.4 475.22,98.73 478,99C480.78,99.27 469.67,99.32 490,99.4C510.33,99.48 581.67,99.48 600,99.5" fill="none" stroke="#f2123e" stroke-width="2.8" stroke-linecap="round"/>
<path d="M330,11.2C331.55,12.75 336.18,17.38 339.3,20.5C342.42,23.62 345.58,27.1 348.7,29.9C351.82,32.7 354.9,34.97 358,37.3C361.1,39.63 364.18,41.87 367.3,43.9C370.42,45.93 373.58,47.8 376.7,49.5C379.82,51.2 382.9,52.65 386,54.1C389.1,55.55 392.13,56.95 395.3,58.2C398.47,59.45 401.55,60.5 405,61.6C408.45,62.7 411.5,63.2 416,64.8C420.5,66.4 427.83,69.58 432,71.2C436.17,72.82 438.33,73.4 441,74.5C443.67,75.6 445.72,76.6 448,77.8C450.28,79 452.82,80.63 454.7,81.7C456.58,82.77 457.75,83.23 459.3,84.2C460.85,85.17 462.43,86.33 464,87.5C465.57,88.67 467.15,90.02 468.7,91.2C470.25,92.38 471.75,93.67 473.3,94.6C474.85,95.53 475.67,96.2 478,96.8C480.33,97.4 481.97,97.87 487.3,98.2C492.63,98.53 491.22,98.68 510,98.8C528.78,98.92 585,98.88 600,98.9" fill="none" stroke="#000" stroke-width="3.3" stroke-linecap="round"/>
<line x1="611" y1="98.0" x2="677" y2="98.0" stroke="#f2123e" stroke-width="2.8"/>
<line x1="611" y1="99.8" x2="677" y2="99.8" stroke="#000" stroke-width="3.3"/>
<path d="M325.6,124.9C325.83,125.75 326.53,128.28 327,130C327.47,131.72 327.7,132.78 328.4,135.2C329.1,137.62 330.12,141.38 331.2,144.5C332.28,147.62 333.65,151.25 334.9,153.9C336.15,156.55 337.13,158.23 338.7,160.4C340.27,162.57 342.13,164.72 344.3,166.9C346.47,169.08 348.9,171.47 351.7,173.5C354.5,175.53 357.98,177.55 361.1,179.1C364.22,180.65 367.25,181.68 370.4,182.8C373.55,183.92 376.85,184.93 380,185.8C383.15,186.67 386.18,187.37 389.3,188C392.42,188.63 395.58,188.97 398.7,189.6C401.82,190.23 404.9,190.98 408,191.8C411.1,192.62 414.18,193.62 417.3,194.5C420.42,195.38 423.58,196.15 426.7,197.1C429.82,198.05 433.78,199.35 436,200.2C438.22,201.05 438.45,201.52 440,202.2C441.55,202.88 443.52,203.52 445.3,204.3C447.08,205.08 448.92,206.03 450.7,206.9C452.48,207.77 454.23,208.62 456,209.5C457.77,210.38 459.52,211.4 461.3,212.2C463.08,213 464.92,213.8 466.7,214.3C468.48,214.8 466.45,214.98 472,215.2C477.55,215.42 478.67,215.52 500,215.6C521.33,215.68 583.33,215.68 600,215.7" fill="none" stroke="#f2123e" stroke-width="2.8" stroke-linecap="round"/>
<path d="M324.7,149.2C325.47,149.82 326.97,151.18 329.3,152.9C331.63,154.62 335.58,157.63 338.7,159.5C341.82,161.37 344.9,162.55 348,164.1C351.1,165.65 354.18,167.33 357.3,168.8C360.42,170.27 363.58,171.5 366.7,172.9C369.82,174.3 373.78,176.2 376,177.2C378.22,178.2 377.78,178.18 380,178.9C382.22,179.62 386.18,180.73 389.3,181.5C392.42,182.27 395.58,182.57 398.7,183.5C401.82,184.43 404.9,186.02 408,187.1C411.1,188.18 414.18,188.92 417.3,190C420.42,191.08 423.58,192.37 426.7,193.6C429.82,194.83 433.78,196.43 436,197.4C438.22,198.37 438.45,198.62 440,199.4C441.55,200.18 443.52,201.2 445.3,202.1C447.08,203 448.92,203.82 450.7,204.8C452.48,205.78 454.23,206.85 456,208C457.77,209.15 459.52,210.5 461.3,211.7C463.08,212.9 464.92,214.35 466.7,215.2C468.48,216.05 469.33,216.43 472,216.8C474.67,217.17 478.03,217.27 482.7,217.4C487.37,217.53 480.45,217.55 500,217.6C519.55,217.65 583.33,217.68 600,217.7" fill="none" stroke="#000" stroke-width="3.3" stroke-linecap="round"/>
<line x1="611" y1="216.3" x2="677" y2="216.3" stroke="#f2123e" stroke-width="2.8"/>
<line x1="611" y1="218.3" x2="677" y2="218.3" stroke="#000" stroke-width="3.3"/>
<path d="M329.1,244.9C329.5,246 330.63,248.85 331.5,251.5C332.37,254.15 333.2,257.7 334.3,260.8C335.4,263.9 336.53,266.98 338.1,270.1C339.67,273.22 341.53,276.85 343.7,279.5C345.87,282.15 348.62,284.13 351.1,286C353.58,287.87 355.8,289.37 358.6,290.7C361.4,292.03 364.78,292.92 367.9,294C371.02,295.08 374.18,296.27 377.3,297.2C380.42,298.13 383.65,298.87 386.6,299.6C389.55,300.33 391.82,301.07 395,301.6C398.18,302.13 402.15,302.42 405.7,302.8C409.25,303.18 412.75,303.55 416.3,303.9C419.85,304.25 423.43,304.55 427,304.9C430.57,305.25 434.13,305.55 437.7,306C441.27,306.45 444.85,307.07 448.4,307.6C451.95,308.13 456.23,308.78 459,309.2C461.77,309.62 462.22,309.68 465,310.1C467.78,310.52 472.15,311.17 475.7,311.7C479.25,312.23 482.75,312.67 486.3,313.3C489.85,313.93 493.43,314.7 497,315.5C500.57,316.3 504.13,317.22 507.7,318.1C511.27,318.98 514.85,319.9 518.4,320.8C521.95,321.7 526.23,322.82 529,323.5C531.77,324.18 532.38,324.28 535,324.9C537.62,325.52 541.45,326.42 544.7,327.2C547.95,327.98 551.25,328.72 554.5,329.6C557.75,330.48 560.95,331.6 564.2,332.5C567.45,333.4 570.75,334.33 574,335C577.25,335.67 580.45,336.13 583.7,336.5C586.95,336.87 590.78,337.05 593.5,337.2C596.22,337.35 598.92,337.37 600,337.4" fill="none" stroke="#f2123e" stroke-width="2.8" stroke-linecap="round"/>
<path d="M327.8,316.5C328.17,317 329.2,318.72 330,319.5C330.8,320.28 331.43,320.95 332.6,321.2C333.77,321.45 334.6,321.13 337,321C339.4,320.87 342.33,320.57 347,320.4C351.67,320.23 359.67,320.07 365,320C370.33,319.93 374,319.93 379,320C384,320.07 388.78,320.2 395,320.4C401.22,320.6 409.18,320.93 416.3,321.2C423.42,321.47 429.58,321.53 437.7,322C445.82,322.47 458.67,323.53 465,324C471.33,324.47 472.15,324.53 475.7,324.8C479.25,325.07 482.75,325.28 486.3,325.6C489.85,325.92 493.43,326.35 497,326.7C500.57,327.05 504.13,327.35 507.7,327.7C511.27,328.05 514.85,328.43 518.4,328.8C521.95,329.17 526.23,329.6 529,329.9C531.77,330.2 532.38,330.23 535,330.6C537.62,330.97 541.45,331.53 544.7,332.1C547.95,332.67 551.25,333.35 554.5,334C557.75,334.65 560.95,335.4 564.2,336C567.45,336.6 570.75,337.2 574,337.6C577.25,338 579.37,338.22 583.7,338.4C588.03,338.58 597.28,338.65 600,338.7" fill="none" stroke="#000" stroke-width="3.3" stroke-linecap="round"/>
<line x1="611" y1="337.8" x2="677" y2="337.8" stroke="#f2123e" stroke-width="2.8"/>
<line x1="611" y1="339.3" x2="677" y2="339.3" stroke="#000" stroke-width="3.3"/>
<path d="M603.3,4.5 L603.51,6.13 L603.79,8.3 L604.13,10.88 L604.51,13.75 L604.88,16.78 L605.24,19.83 L605.56,22.78 L605.8,25.5 L606,28.01 L606.19,30.45 L606.36,32.85 L606.49,35.25 L606.59,37.68 L606.63,40.17 L606.6,42.77 L606.5,45.5 L606.3,48.39 L606.01,51.4 L605.65,54.51 L605.24,57.69 L604.8,60.91 L604.35,64.13 L603.91,67.34 L603.5,70.5 L603.08,73.65 L602.61,76.83 L602.12,80.02 L601.64,83.21 L601.19,86.37 L600.8,89.49 L600.49,92.54 L600.3,95.5 L600.25,98.51 L600.32,101.65 L600.48,104.8 L600.7,107.86 L600.94,110.73 L601.18,113.3 L601.38,115.46 L601.5,117.1 L610.3,117.1 L610.15,115.46 L609.91,113.3 L609.62,110.73 L609.32,107.86 L609.05,104.8 L608.84,101.65 L608.75,98.51 L608.8,95.5 L609.02,92.54 L609.37,89.49 L609.82,86.37 L610.35,83.21 L610.91,80.02 L611.48,76.83 L612.02,73.65 L612.5,70.5 L612.96,67.34 L613.45,64.13 L613.96,60.91 L614.44,57.69 L614.9,54.51 L615.29,51.4 L615.6,48.39 L615.8,45.5 L615.9,42.77 L615.9,40.17 L615.83,37.68 L615.7,35.25 L615.52,32.85 L615.3,30.45 L615.05,28.01 L614.8,25.5 L614.49,22.78 L614.1,19.83 L613.66,16.78 L613.19,13.75 L612.73,10.88 L612.31,8.3 L611.95,6.13 L611.7,4.5Z" fill="#fff"/>
<path d="M603.3,4.5C603.72,8 605.27,18.67 605.8,25.5C606.33,32.33 606.88,38 606.5,45.5C606.12,53 604.53,62.17 603.5,70.5C602.47,78.83 600.63,87.73 600.3,95.5C599.97,103.27 601.3,113.5 601.5,117.1" fill="none" stroke="#222" stroke-width="1.1"/>
<path d="M611.7,4.5C612.22,8 614.12,18.67 614.8,25.5C615.48,32.33 616.18,38 615.8,45.5C615.42,53 613.67,62.17 612.5,70.5C611.33,78.83 609.17,87.73 608.8,95.5C608.43,103.27 610.05,113.5 610.3,117.1" fill="none" stroke="#222" stroke-width="1.1"/>
<path d="M603.3,123.8 L603.51,125.43 L603.79,127.6 L604.13,130.18 L604.51,133.05 L604.88,136.08 L605.24,139.13 L605.56,142.08 L605.8,144.8 L606,147.31 L606.19,149.75 L606.36,152.15 L606.49,154.55 L606.59,156.98 L606.63,159.47 L606.6,162.07 L606.5,164.8 L606.3,167.69 L606.01,170.7 L605.65,173.81 L605.24,176.99 L604.8,180.21 L604.35,183.43 L603.91,186.64 L603.5,189.8 L603.08,192.95 L602.61,196.13 L602.12,199.32 L601.64,202.51 L601.19,205.67 L600.8,208.79 L600.49,211.84 L600.3,214.8 L600.25,217.81 L600.32,220.95 L600.48,224.1 L600.7,227.16 L600.94,230.03 L601.18,232.6 L601.38,234.76 L601.5,236.4 L610.3,236.4 L610.15,234.76 L609.91,232.6 L609.62,230.03 L609.32,227.16 L609.05,224.1 L608.84,220.95 L608.75,217.81 L608.8,214.8 L609.02,211.84 L609.37,208.79 L609.82,205.67 L610.35,202.51 L610.91,199.32 L611.48,196.13 L612.02,192.95 L612.5,189.8 L612.96,186.64 L613.45,183.43 L613.96,180.21 L614.44,176.99 L614.9,173.81 L615.29,170.7 L615.6,167.69 L615.8,164.8 L615.9,162.07 L615.9,159.47 L615.83,156.98 L615.7,154.55 L615.52,152.15 L615.3,149.75 L615.05,147.31 L614.8,144.8 L614.49,142.08 L614.1,139.13 L613.66,136.08 L613.19,133.05 L612.73,130.18 L612.31,127.6 L611.95,125.43 L611.7,123.8Z" fill="#fff"/>
<path d="M603.3,123.8C603.72,127.3 605.27,137.97 605.8,144.8C606.33,151.63 606.88,157.3 606.5,164.8C606.12,172.3 604.53,181.47 603.5,189.8C602.47,198.13 600.63,207.03 600.3,214.8C599.97,222.57 601.3,232.8 601.5,236.4" fill="none" stroke="#222" stroke-width="1.1"/>
<path d="M611.7,123.8C612.22,127.3 614.12,137.97 614.8,144.8C615.48,151.63 616.18,157.3 615.8,164.8C615.42,172.3 613.67,181.47 612.5,189.8C611.33,198.13 609.17,207.03 608.8,214.8C608.43,222.57 610.05,232.8 610.3,236.4" fill="none" stroke="#222" stroke-width="1.1"/>
<path d="M603.3,243.1 L603.51,244.73 L603.79,246.9 L604.13,249.48 L604.51,252.35 L604.88,255.38 L605.24,258.43 L605.56,261.38 L605.8,264.1 L606,266.61 L606.19,269.05 L606.36,271.45 L606.49,273.85 L606.59,276.28 L606.63,278.77 L606.6,281.37 L606.5,284.1 L606.3,286.99 L606.01,290 L605.65,293.11 L605.24,296.29 L604.8,299.51 L604.35,302.73 L603.91,305.94 L603.5,309.1 L603.08,312.25 L602.61,315.43 L602.12,318.62 L601.64,321.81 L601.19,324.97 L600.8,328.09 L600.49,331.14 L600.3,334.1 L600.25,337.11 L600.32,340.25 L600.48,343.4 L600.7,346.46 L600.94,349.33 L601.18,351.9 L601.38,354.06 L601.5,355.7 L610.3,355.7 L610.15,354.06 L609.91,351.9 L609.62,349.33 L609.32,346.46 L609.05,343.4 L608.84,340.25 L608.75,337.11 L608.8,334.1 L609.02,331.14 L609.37,328.09 L609.82,324.97 L610.35,321.81 L610.91,318.62 L611.48,315.43 L612.02,312.25 L612.5,309.1 L612.96,305.94 L613.45,302.73 L613.96,299.51 L614.44,296.29 L614.9,293.11 L615.29,290 L615.6,286.99 L615.8,284.1 L615.9,281.37 L615.9,278.77 L615.83,276.28 L615.7,273.85 L615.52,271.45 L615.3,269.05 L615.05,266.61 L614.8,264.1 L614.49,261.38 L614.1,258.43 L613.66,255.38 L613.19,252.35 L612.73,249.48 L612.31,246.9 L611.95,244.73 L611.7,243.1Z" fill="#fff"/>
<path d="M603.3,243.1C603.72,246.6 605.27,257.27 605.8,264.1C606.33,270.93 606.88,276.6 606.5,284.1C606.12,291.6 604.53,300.77 603.5,309.1C602.47,317.43 600.63,326.33 600.3,334.1C599.97,341.87 601.3,352.1 601.5,355.7" fill="none" stroke="#222" stroke-width="1.1"/>
<path d="M611.7,243.1C612.22,246.6 614.12,257.27 614.8,264.1C615.48,270.93 616.18,276.6 615.8,284.1C615.42,291.6 613.67,300.77 612.5,309.1C611.33,317.43 609.17,326.33 608.8,334.1C608.43,341.87 610.05,352.1 610.3,355.7" fill="none" stroke="#222" stroke-width="1.1"/>
<text transform="translate(328.2,85.3) rotate(-90)" font-family="'Liberation Sans', sans-serif" font-size="9.6" font-style="italic" fill="#555">Heliosheath</text>
<line x1="317.5" y1="108.3" x2="369.9" y2="108.3" stroke="#333" stroke-width="0.8"/>
<path d="M373.9,108.3 l-5,-2.2 v4.4 z" fill="#111"/>
<text transform="translate(322.5,107.4) rotate(-60)" font-family="'Liberation Sans', sans-serif" font-size="6.8" font-style="italic" fill="#444">2010</text>
<text transform="translate(332.6,107.4) rotate(-60)" font-family="'Liberation Sans', sans-serif" font-size="6.8" font-style="italic" fill="#444">2015</text>
<text transform="translate(342.8,107.4) rotate(-60)" font-family="'Liberation Sans', sans-serif" font-size="6.8" font-style="italic" fill="#444">2020</text>
<text transform="translate(352.9,107.4) rotate(-60)" font-family="'Liberation Sans', sans-serif" font-size="6.8" font-style="italic" fill="#444">2025</text>
<text transform="translate(363,107.4) rotate(-60)" font-family="'Liberation Sans', sans-serif" font-size="6.8" font-style="italic" fill="#444">2030</text>
<line x1="324.3" y1="106.7" x2="324.3" y2="109.9" stroke="#666" stroke-width="0.7"/>
<line x1="334.4" y1="106.7" x2="334.4" y2="109.9" stroke="#666" stroke-width="0.7"/>
<line x1="345.1" y1="106.7" x2="345.1" y2="109.9" stroke="#666" stroke-width="0.7"/>
<line x1="355.8" y1="106.7" x2="355.8" y2="109.9" stroke="#666" stroke-width="0.7"/>
<line x1="366.4" y1="106.7" x2="366.4" y2="109.9" stroke="#666" stroke-width="0.7"/>
<line x1="317.5" y1="349.4" x2="354.8" y2="349.4" stroke="#333" stroke-width="0.8"/>
<path d="M358.8,349.4 l-5,-2.2 v4.4 z" fill="#111"/>
<text transform="translate(320.4,348.5) rotate(-60)" font-family="'Liberation Sans', sans-serif" font-size="6.8" font-style="italic" fill="#444">2015</text>
<text transform="translate(330,348.5) rotate(-60)" font-family="'Liberation Sans', sans-serif" font-size="6.8" font-style="italic" fill="#444">2020</text>
<text transform="translate(339.2,348.5) rotate(-60)" font-family="'Liberation Sans', sans-serif" font-size="6.8" font-style="italic" fill="#444">2025</text>
<text transform="translate(348.3,348.5) rotate(-60)" font-family="'Liberation Sans', sans-serif" font-size="6.8" font-style="italic" fill="#444">2030</text>
<line x1="330.7" y1="347.8" x2="330.7" y2="351" stroke="#666" stroke-width="0.7"/>
<line x1="340.4" y1="347.8" x2="340.4" y2="351" stroke="#666" stroke-width="0.7"/>
<line x1="349.5" y1="347.8" x2="349.5" y2="351" stroke="#666" stroke-width="0.7"/>
<rect x="508.2" y="5.8" width="84" height="21" fill="#e6e6e6" stroke="#666" stroke-width="0.9"/>
<line x1="510.5" y1="21.8" x2="525.5" y2="9.8" stroke="#000" stroke-width="1.9" marker-end="url(#ah)"/>
<text x="532.7" y="21" font-family="'Liberation Sans', sans-serif" font-size="16.8" fill="#111" textLength="56.5" lengthAdjust="spacingAndGlyphs">Voyager 1</text>
<rect x="508.2" y="125.1" width="84" height="21" fill="#e6e6e6" stroke="#666" stroke-width="0.9"/>
<line x1="510.5" y1="137" x2="527" y2="134.6" stroke="#000" stroke-width="1.9" marker-end="url(#ah)"/>
<text x="531.6" y="140.3" font-family="'Liberation Sans', sans-serif" font-size="16.8" fill="#111" textLength="57.8" lengthAdjust="spacingAndGlyphs">Upstream</text>
<rect x="508.2" y="244.4" width="84" height="22.2" fill="#e6e6e6" stroke="#666" stroke-width="0.9"/>
<line x1="511" y1="247.1" x2="523.5" y2="262.6" stroke="#000" stroke-width="1.9" marker-end="url(#ah)"/>
<text x="525.8" y="259.9" font-family="'Liberation Sans', sans-serif" font-size="16.8" fill="#111" textLength="63.3" lengthAdjust="spacingAndGlyphs">Voyager 2</text>
<text transform="translate(478.5,91.1) rotate(0)" font-family="'Liberation Sans', sans-serif" font-size="12.8" fill="#111"><tspan font-size="15.5">θ</tspan> (<tspan font-size="10" fill="#333">∠</tspan> of <tspan font-weight="bold">B</tspan> to <tspan font-weight="bold">B</tspan><tspan font-size="8" dy="3.8">LISM</tspan><tspan dy="-3.8">)</tspan></text>
<text transform="translate(363.5,67.3) rotate(9.5)" font-family="'Liberation Sans', sans-serif" font-size="14" font-weight="bold" fill="#f2123e">|B|/B<tspan font-size="7.8" font-weight="normal" dy="5">LISM</tspan></text>
<text transform="translate(368,167.5) rotate(16.5)" font-family="'Liberation Sans', sans-serif" font-size="12.8" fill="#111"><tspan font-size="15.5">θ</tspan> (<tspan font-size="10" fill="#333">∠</tspan> of <tspan font-weight="bold">B</tspan> to <tspan font-weight="bold">B</tspan><tspan font-size="8" dy="3.8">LISM</tspan><tspan dy="-3.8">)</tspan></text>
<text transform="translate(367.5,200.8) rotate(11)" font-family="'Liberation Sans', sans-serif" font-size="14" font-weight="bold" fill="#f2123e">|B|/B<tspan font-size="7.8" font-weight="normal" dy="5">LISM</tspan></text>
<text transform="translate(441,298.8) rotate(6.5)" font-family="'Liberation Sans', sans-serif" font-size="14" font-weight="bold" fill="#f2123e">|B|/B<tspan font-size="7.8" font-weight="normal" dy="5">LISM</tspan></text>
<text transform="translate(385,338.2) rotate(0)" font-family="'Liberation Sans', sans-serif" font-size="12.8" fill="#111"><tspan font-size="15.5">θ</tspan> (<tspan font-size="10" fill="#333">∠</tspan> of <tspan font-weight="bold">B</tspan> to <tspan font-weight="bold">B</tspan><tspan font-size="8" dy="3.8">LISM</tspan><tspan dy="-3.8">)</tspan></text>
<path d="M314.5,6.1 C301,5.7 294.8,9.5 294.8,20.5 L294.8,51.8 C294.8,58.3 290,60.8 284.3,60.8 C290,60.8 294.8,63.3 294.8,69.8 L294.8,101.1 C294.8,112.1 301,115.9 314.5,115.5" fill="none" stroke="#111" stroke-width="1.6" stroke-linejoin="miter"/>
<circle cx="280.6" cy="60.8" r="3" fill="#fff" stroke="#111" stroke-width="1.1"/>
<path d="M314.5,125.4 C301,125 294.8,128.8 294.8,139.8 L294.8,171.1 C294.8,177.6 290,180.1 284.3,180.1 C290,180.1 294.8,182.6 294.8,189.1 L294.8,220.4 C294.8,231.4 301,235.2 314.5,234.8" fill="none" stroke="#111" stroke-width="1.6" stroke-linejoin="miter"/>
<circle cx="280.6" cy="180.1" r="3" fill="#fff" stroke="#111" stroke-width="1.1"/>
<path d="M314.5,244.7 C301,244.3 294.8,248.1 294.8,259.1 L294.8,290.4 C294.8,296.9 290,299.4 284.3,299.4 C290,299.4 294.8,301.9 294.8,308.4 L294.8,339.7 C294.8,350.7 301,354.5 314.5,354.1" fill="none" stroke="#111" stroke-width="1.6" stroke-linejoin="miter"/>
<circle cx="280.6" cy="299.4" r="3" fill="#fff" stroke="#111" stroke-width="1.1"/>
<text x="317.5" y="373" font-family="'Liberation Sans', sans-serif" font-size="17" text-anchor="middle" fill="#111">100</text>
<text x="376.7" y="373" font-family="'Liberation Sans', sans-serif" font-size="17" text-anchor="middle" fill="#111">200</text>
<text x="435.9" y="373" font-family="'Liberation Sans', sans-serif" font-size="17" text-anchor="middle" fill="#111">300</text>
<text x="495.1" y="373" font-family="'Liberation Sans', sans-serif" font-size="17" text-anchor="middle" fill="#111">400</text>
<text x="554.3" y="373" font-family="'Liberation Sans', sans-serif" font-size="17" text-anchor="middle" fill="#111">500</text>
<text x="618" y="373" font-family="'Liberation Sans', sans-serif" font-size="17" text-anchor="middle" fill="#111">900</text>
<text x="676.2" y="373" font-family="'Liberation Sans', sans-serif" font-size="17" text-anchor="middle" fill="#111">1000</text>
<text x="700" y="373" font-family="'Liberation Sans', sans-serif" font-size="17" fill="#111">au</text>
</svg></body></html>
